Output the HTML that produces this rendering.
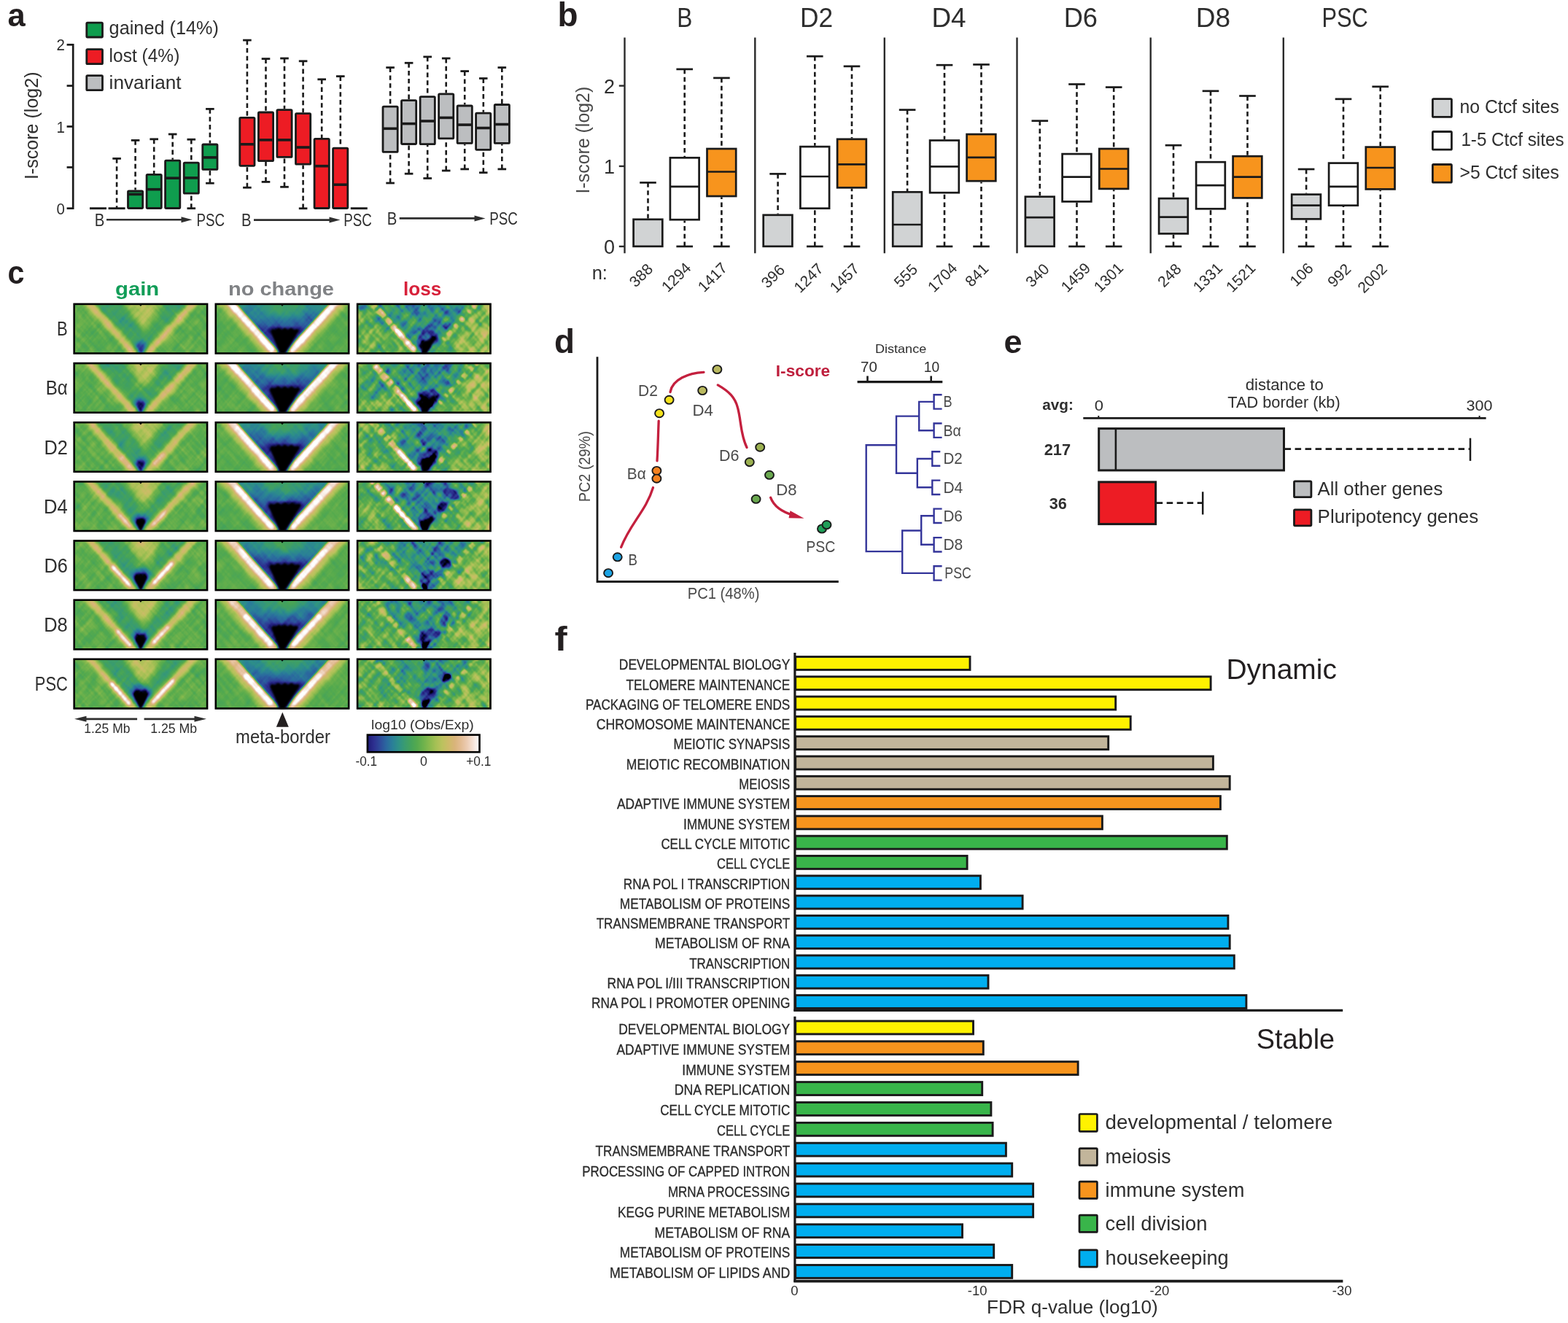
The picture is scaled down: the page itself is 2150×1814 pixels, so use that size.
<!DOCTYPE html>
<html lang="en"><head><meta charset="utf-8"><title>Figure</title>
<style>
html,body{margin:0;padding:0;background:#fff;}
body{width:2150px;height:1814px;overflow:hidden;}
svg{display:block;font-family:"Liberation Sans",sans-serif;}
</style></head><body>
<svg width="2150" height="1814" viewBox="0 0 2150 1814">
<g id="panel-a">
<text x="10.6" y="35.6" font-size="45" font-weight="bold" fill="#231f20" textLength="24.2" lengthAdjust="spacingAndGlyphs">a</text>
<line x1="100.2" y1="60.0" x2="100.2" y2="287.0" stroke="#1a1a1a" stroke-width="2.7"/>
<line x1="91.6" y1="61.3" x2="100.2" y2="61.3" stroke="#1a1a1a" stroke-width="2.7"/>
<line x1="91.6" y1="117.6" x2="100.2" y2="117.6" stroke="#1a1a1a" stroke-width="2.7"/>
<line x1="91.6" y1="173.5" x2="100.2" y2="173.5" stroke="#1a1a1a" stroke-width="2.7"/>
<line x1="91.6" y1="229.4" x2="100.2" y2="229.4" stroke="#1a1a1a" stroke-width="2.7"/>
<line x1="91.6" y1="285.7" x2="100.2" y2="285.7" stroke="#1a1a1a" stroke-width="2.7"/>
<text x="77.4" y="69.4" font-size="22.5" fill="#2e2e2e" textLength="11.4" lengthAdjust="spacingAndGlyphs">2</text>
<text x="77.4" y="181.6" font-size="22.5" fill="#2e2e2e" textLength="11.4" lengthAdjust="spacingAndGlyphs">1</text>
<text x="77.4" y="293.6" font-size="22.5" fill="#2e2e2e" textLength="11.4" lengthAdjust="spacingAndGlyphs">0</text>
<text font-size="25" fill="#2e2e2e" textLength="147.5" lengthAdjust="spacingAndGlyphs" transform="translate(51.6 246.0) rotate(-90)">I-score (log2)</text>
<rect x="118.8" y="31.1" width="21.7" height="19.9" fill="#0f9d4e" stroke="#1a1a1a" stroke-width="2.8" rx="1.2"/>
<text x="149.6" y="47.2" font-size="25.5" fill="#2e2e2e" textLength="150.4" lengthAdjust="spacingAndGlyphs">gained (14%)</text>
<rect x="118.8" y="67.7" width="21.7" height="19.9" fill="#ed1c24" stroke="#1a1a1a" stroke-width="2.8" rx="1.2"/>
<text x="149.6" y="84.8" font-size="25.5" fill="#2e2e2e" textLength="96.7" lengthAdjust="spacingAndGlyphs">lost (4%)</text>
<rect x="118.8" y="103.6" width="21.7" height="20.1" fill="#bcbec0" stroke="#1a1a1a" stroke-width="2.8" rx="1.2"/>
<text x="149.6" y="122.4" font-size="25.5" fill="#2e2e2e" textLength="99.0" lengthAdjust="spacingAndGlyphs">invariant</text>
<line x1="123.0" y1="285.7" x2="146.0" y2="285.7" stroke="#1a1a1a" stroke-width="2.9"/>
<line x1="160.1" y1="217.4" x2="160.1" y2="285.7" stroke="#1a1a1a" stroke-width="2.6" stroke-dasharray="6.4 4.4"/>
<line x1="154.3" y1="217.4" x2="165.9" y2="217.4" stroke="#1a1a1a" stroke-width="2.8"/>
<line x1="148.6" y1="285.7" x2="171.6" y2="285.7" stroke="#1a1a1a" stroke-width="2.9"/>
<line x1="185.6" y1="192.4" x2="185.6" y2="260.6" stroke="#1a1a1a" stroke-width="2.6" stroke-dasharray="6.4 4.4"/>
<line x1="179.8" y1="192.4" x2="191.4" y2="192.4" stroke="#1a1a1a" stroke-width="2.8"/>
<rect x="175.5" y="262.0" width="20.2" height="23.5" fill="#0f9d4e" stroke="#1a1a1a" stroke-width="2.8" rx="1.2"/>
<line x1="175.1" y1="266.4" x2="196.1" y2="266.4" stroke="#1a1a1a" stroke-width="3.6"/>
<line x1="211.2" y1="190.8" x2="211.2" y2="238.0" stroke="#1a1a1a" stroke-width="2.6" stroke-dasharray="6.4 4.4"/>
<line x1="205.4" y1="190.8" x2="217.0" y2="190.8" stroke="#1a1a1a" stroke-width="2.8"/>
<rect x="201.1" y="239.4" width="20.2" height="46.1" fill="#0f9d4e" stroke="#1a1a1a" stroke-width="2.8" rx="1.2"/>
<line x1="200.7" y1="259.7" x2="221.7" y2="259.7" stroke="#1a1a1a" stroke-width="3.6"/>
<line x1="236.7" y1="184.0" x2="236.7" y2="218.8" stroke="#1a1a1a" stroke-width="2.6" stroke-dasharray="6.4 4.4"/>
<line x1="230.9" y1="184.0" x2="242.5" y2="184.0" stroke="#1a1a1a" stroke-width="2.8"/>
<rect x="226.6" y="220.2" width="20.2" height="65.3" fill="#0f9d4e" stroke="#1a1a1a" stroke-width="2.8" rx="1.2"/>
<line x1="226.2" y1="244.2" x2="247.2" y2="244.2" stroke="#1a1a1a" stroke-width="3.6"/>
<line x1="262.3" y1="191.2" x2="262.3" y2="221.7" stroke="#1a1a1a" stroke-width="2.6" stroke-dasharray="6.4 4.4"/>
<line x1="256.5" y1="191.2" x2="268.1" y2="191.2" stroke="#1a1a1a" stroke-width="2.8"/>
<line x1="262.3" y1="285.7" x2="262.3" y2="266.6" stroke="#1a1a1a" stroke-width="2.6" stroke-dasharray="6.4 4.4"/>
<line x1="256.5" y1="285.7" x2="268.1" y2="285.7" stroke="#1a1a1a" stroke-width="2.8"/>
<rect x="252.2" y="223.1" width="20.2" height="42.1" fill="#0f9d4e" stroke="#1a1a1a" stroke-width="2.8" rx="1.2"/>
<line x1="251.8" y1="243.9" x2="272.8" y2="243.9" stroke="#1a1a1a" stroke-width="3.6"/>
<line x1="287.9" y1="149.4" x2="287.9" y2="196.6" stroke="#1a1a1a" stroke-width="2.6" stroke-dasharray="6.4 4.4"/>
<line x1="282.1" y1="149.4" x2="293.7" y2="149.4" stroke="#1a1a1a" stroke-width="2.8"/>
<line x1="287.9" y1="251.2" x2="287.9" y2="233.8" stroke="#1a1a1a" stroke-width="2.6" stroke-dasharray="6.4 4.4"/>
<line x1="282.1" y1="251.2" x2="293.7" y2="251.2" stroke="#1a1a1a" stroke-width="2.8"/>
<rect x="277.8" y="198.0" width="20.2" height="34.4" fill="#0f9d4e" stroke="#1a1a1a" stroke-width="2.8" rx="1.2"/>
<line x1="277.4" y1="215.9" x2="298.4" y2="215.9" stroke="#1a1a1a" stroke-width="3.6"/>
<line x1="338.9" y1="55.1" x2="338.9" y2="160.0" stroke="#1a1a1a" stroke-width="2.6" stroke-dasharray="6.4 4.4"/>
<line x1="333.1" y1="55.1" x2="344.7" y2="55.1" stroke="#1a1a1a" stroke-width="2.8"/>
<line x1="338.9" y1="257.2" x2="338.9" y2="228.7" stroke="#1a1a1a" stroke-width="2.6" stroke-dasharray="6.4 4.4"/>
<line x1="333.1" y1="257.2" x2="344.7" y2="257.2" stroke="#1a1a1a" stroke-width="2.8"/>
<rect x="328.8" y="161.4" width="20.2" height="65.9" fill="#ed1c24" stroke="#1a1a1a" stroke-width="2.8" rx="1.2"/>
<line x1="328.4" y1="197.8" x2="349.4" y2="197.8" stroke="#1a1a1a" stroke-width="3.6"/>
<line x1="364.5" y1="80.6" x2="364.5" y2="152.6" stroke="#1a1a1a" stroke-width="2.6" stroke-dasharray="6.4 4.4"/>
<line x1="358.7" y1="80.6" x2="370.3" y2="80.6" stroke="#1a1a1a" stroke-width="2.8"/>
<line x1="364.5" y1="249.4" x2="364.5" y2="222.0" stroke="#1a1a1a" stroke-width="2.6" stroke-dasharray="6.4 4.4"/>
<line x1="358.7" y1="249.4" x2="370.3" y2="249.4" stroke="#1a1a1a" stroke-width="2.8"/>
<rect x="354.4" y="154.0" width="20.2" height="66.6" fill="#ed1c24" stroke="#1a1a1a" stroke-width="2.8" rx="1.2"/>
<line x1="354.0" y1="191.9" x2="375.0" y2="191.9" stroke="#1a1a1a" stroke-width="3.6"/>
<line x1="390.0" y1="80.0" x2="390.0" y2="149.3" stroke="#1a1a1a" stroke-width="2.6" stroke-dasharray="6.4 4.4"/>
<line x1="384.2" y1="80.0" x2="395.8" y2="80.0" stroke="#1a1a1a" stroke-width="2.8"/>
<line x1="390.0" y1="256.3" x2="390.0" y2="216.8" stroke="#1a1a1a" stroke-width="2.6" stroke-dasharray="6.4 4.4"/>
<line x1="384.2" y1="256.3" x2="395.8" y2="256.3" stroke="#1a1a1a" stroke-width="2.8"/>
<rect x="379.9" y="150.7" width="20.2" height="64.7" fill="#ed1c24" stroke="#1a1a1a" stroke-width="2.8" rx="1.2"/>
<line x1="379.5" y1="191.9" x2="400.5" y2="191.9" stroke="#1a1a1a" stroke-width="3.6"/>
<line x1="415.6" y1="83.8" x2="415.6" y2="154.3" stroke="#1a1a1a" stroke-width="2.6" stroke-dasharray="6.4 4.4"/>
<line x1="409.8" y1="83.8" x2="421.4" y2="83.8" stroke="#1a1a1a" stroke-width="2.8"/>
<line x1="415.6" y1="285.8" x2="415.6" y2="226.6" stroke="#1a1a1a" stroke-width="2.6" stroke-dasharray="6.4 4.4"/>
<line x1="409.8" y1="285.8" x2="421.4" y2="285.8" stroke="#1a1a1a" stroke-width="2.8"/>
<rect x="405.5" y="155.7" width="20.2" height="69.5" fill="#ed1c24" stroke="#1a1a1a" stroke-width="2.8" rx="1.2"/>
<line x1="405.1" y1="202.0" x2="426.1" y2="202.0" stroke="#1a1a1a" stroke-width="3.6"/>
<line x1="441.2" y1="108.8" x2="441.2" y2="189.0" stroke="#1a1a1a" stroke-width="2.6" stroke-dasharray="6.4 4.4"/>
<line x1="435.4" y1="108.8" x2="447.0" y2="108.8" stroke="#1a1a1a" stroke-width="2.8"/>
<rect x="431.1" y="190.4" width="20.2" height="95.1" fill="#ed1c24" stroke="#1a1a1a" stroke-width="2.8" rx="1.2"/>
<line x1="430.7" y1="227.7" x2="451.7" y2="227.7" stroke="#1a1a1a" stroke-width="3.6"/>
<line x1="466.8" y1="104.6" x2="466.8" y2="201.7" stroke="#1a1a1a" stroke-width="2.6" stroke-dasharray="6.4 4.4"/>
<line x1="460.9" y1="104.6" x2="472.6" y2="104.6" stroke="#1a1a1a" stroke-width="2.8"/>
<rect x="456.6" y="203.1" width="20.2" height="82.4" fill="#ed1c24" stroke="#1a1a1a" stroke-width="2.8" rx="1.2"/>
<line x1="456.2" y1="253.2" x2="477.2" y2="253.2" stroke="#1a1a1a" stroke-width="3.6"/>
<line x1="480.8" y1="285.7" x2="503.8" y2="285.7" stroke="#1a1a1a" stroke-width="2.9"/>
<line x1="535.1" y1="92.6" x2="535.1" y2="144.8" stroke="#1a1a1a" stroke-width="2.6" stroke-dasharray="6.4 4.4"/>
<line x1="529.3" y1="92.6" x2="540.9" y2="92.6" stroke="#1a1a1a" stroke-width="2.8"/>
<line x1="535.1" y1="251.0" x2="535.1" y2="209.8" stroke="#1a1a1a" stroke-width="2.6" stroke-dasharray="6.4 4.4"/>
<line x1="529.3" y1="251.0" x2="540.9" y2="251.0" stroke="#1a1a1a" stroke-width="2.8"/>
<rect x="525.0" y="146.2" width="20.2" height="62.2" fill="#bcbec0" stroke="#1a1a1a" stroke-width="2.8" rx="1.2"/>
<line x1="524.6" y1="176.3" x2="545.6" y2="176.3" stroke="#1a1a1a" stroke-width="3.6"/>
<line x1="560.6" y1="86.3" x2="560.6" y2="136.2" stroke="#1a1a1a" stroke-width="2.6" stroke-dasharray="6.4 4.4"/>
<line x1="554.8" y1="86.3" x2="566.4" y2="86.3" stroke="#1a1a1a" stroke-width="2.8"/>
<line x1="560.6" y1="238.2" x2="560.6" y2="198.9" stroke="#1a1a1a" stroke-width="2.6" stroke-dasharray="6.4 4.4"/>
<line x1="554.8" y1="238.2" x2="566.4" y2="238.2" stroke="#1a1a1a" stroke-width="2.8"/>
<rect x="550.5" y="137.6" width="20.2" height="59.9" fill="#bcbec0" stroke="#1a1a1a" stroke-width="2.8" rx="1.2"/>
<line x1="550.1" y1="169.6" x2="571.1" y2="169.6" stroke="#1a1a1a" stroke-width="3.6"/>
<line x1="586.2" y1="77.9" x2="586.2" y2="131.2" stroke="#1a1a1a" stroke-width="2.6" stroke-dasharray="6.4 4.4"/>
<line x1="580.4" y1="77.9" x2="592.0" y2="77.9" stroke="#1a1a1a" stroke-width="2.8"/>
<line x1="586.2" y1="244.5" x2="586.2" y2="199.1" stroke="#1a1a1a" stroke-width="2.6" stroke-dasharray="6.4 4.4"/>
<line x1="580.4" y1="244.5" x2="592.0" y2="244.5" stroke="#1a1a1a" stroke-width="2.8"/>
<rect x="576.1" y="132.6" width="20.2" height="65.1" fill="#bcbec0" stroke="#1a1a1a" stroke-width="2.8" rx="1.2"/>
<line x1="575.7" y1="166.0" x2="596.7" y2="166.0" stroke="#1a1a1a" stroke-width="3.6"/>
<line x1="611.7" y1="80.0" x2="611.7" y2="127.4" stroke="#1a1a1a" stroke-width="2.6" stroke-dasharray="6.4 4.4"/>
<line x1="605.9" y1="80.0" x2="617.5" y2="80.0" stroke="#1a1a1a" stroke-width="2.8"/>
<line x1="611.7" y1="234.0" x2="611.7" y2="191.3" stroke="#1a1a1a" stroke-width="2.6" stroke-dasharray="6.4 4.4"/>
<line x1="605.9" y1="234.0" x2="617.5" y2="234.0" stroke="#1a1a1a" stroke-width="2.8"/>
<rect x="601.6" y="128.8" width="20.2" height="61.1" fill="#bcbec0" stroke="#1a1a1a" stroke-width="2.8" rx="1.2"/>
<line x1="601.2" y1="161.4" x2="622.2" y2="161.4" stroke="#1a1a1a" stroke-width="3.6"/>
<line x1="637.2" y1="97.6" x2="637.2" y2="143.6" stroke="#1a1a1a" stroke-width="2.6" stroke-dasharray="6.4 4.4"/>
<line x1="631.4" y1="97.6" x2="643.0" y2="97.6" stroke="#1a1a1a" stroke-width="2.8"/>
<line x1="637.2" y1="231.9" x2="637.2" y2="197.8" stroke="#1a1a1a" stroke-width="2.6" stroke-dasharray="6.4 4.4"/>
<line x1="631.4" y1="231.9" x2="643.0" y2="231.9" stroke="#1a1a1a" stroke-width="2.8"/>
<rect x="627.1" y="145.0" width="20.2" height="51.4" fill="#bcbec0" stroke="#1a1a1a" stroke-width="2.8" rx="1.2"/>
<line x1="626.7" y1="171.1" x2="647.7" y2="171.1" stroke="#1a1a1a" stroke-width="3.6"/>
<line x1="662.8" y1="107.5" x2="662.8" y2="153.7" stroke="#1a1a1a" stroke-width="2.6" stroke-dasharray="6.4 4.4"/>
<line x1="657.0" y1="107.5" x2="668.5" y2="107.5" stroke="#1a1a1a" stroke-width="2.8"/>
<line x1="662.8" y1="236.7" x2="662.8" y2="206.7" stroke="#1a1a1a" stroke-width="2.6" stroke-dasharray="6.4 4.4"/>
<line x1="657.0" y1="236.7" x2="668.5" y2="236.7" stroke="#1a1a1a" stroke-width="2.8"/>
<rect x="652.6" y="155.1" width="20.2" height="50.2" fill="#bcbec0" stroke="#1a1a1a" stroke-width="2.8" rx="1.2"/>
<line x1="652.2" y1="175.5" x2="673.2" y2="175.5" stroke="#1a1a1a" stroke-width="3.6"/>
<line x1="688.3" y1="92.6" x2="688.3" y2="142.1" stroke="#1a1a1a" stroke-width="2.6" stroke-dasharray="6.4 4.4"/>
<line x1="682.5" y1="92.6" x2="694.1" y2="92.6" stroke="#1a1a1a" stroke-width="2.8"/>
<line x1="688.3" y1="231.9" x2="688.3" y2="197.8" stroke="#1a1a1a" stroke-width="2.6" stroke-dasharray="6.4 4.4"/>
<line x1="682.5" y1="231.9" x2="694.1" y2="231.9" stroke="#1a1a1a" stroke-width="2.8"/>
<rect x="678.2" y="143.5" width="20.2" height="52.9" fill="#bcbec0" stroke="#1a1a1a" stroke-width="2.8" rx="1.2"/>
<line x1="677.8" y1="170.5" x2="698.8" y2="170.5" stroke="#1a1a1a" stroke-width="3.6"/>
<text x="129.7" y="309.6" font-size="24.5" fill="#2e2e2e" textLength="13.6" lengthAdjust="spacingAndGlyphs">B</text>
<line x1="146.0" y1="301.3" x2="251.5" y2="301.3" stroke="#2e2e2e" stroke-width="2.6"/>
<path d="M263.5 301.3 L248.5 297.3 L248.5 305.3 Z" fill="#2e2e2e"/>
<text x="269.5" y="309.6" font-size="24.5" fill="#2e2e2e" textLength="38.6" lengthAdjust="spacingAndGlyphs">PSC</text>
<text x="330.9" y="310.0" font-size="24.5" fill="#2e2e2e" textLength="13.6" lengthAdjust="spacingAndGlyphs">B</text>
<line x1="348.0" y1="301.6" x2="454.5" y2="301.6" stroke="#2e2e2e" stroke-width="2.6"/>
<path d="M466.5 301.6 L451.5 297.6 L451.5 305.6 Z" fill="#2e2e2e"/>
<text x="471.3" y="310.0" font-size="24.5" fill="#2e2e2e" textLength="38.6" lengthAdjust="spacingAndGlyphs">PSC</text>
<text x="530.8" y="308.0" font-size="24.5" fill="#2e2e2e" textLength="13.6" lengthAdjust="spacingAndGlyphs">B</text>
<line x1="547.7" y1="299.4" x2="653.5" y2="299.4" stroke="#2e2e2e" stroke-width="2.6"/>
<path d="M665.5 299.4 L650.5 295.4 L650.5 303.4 Z" fill="#2e2e2e"/>
<text x="671.2" y="308.0" font-size="24.5" fill="#2e2e2e" textLength="38.6" lengthAdjust="spacingAndGlyphs">PSC</text>
</g>
<g id="panel-b">
<text x="764.6" y="35.9" font-size="46" font-weight="bold" fill="#231f20" textLength="28.0" lengthAdjust="spacingAndGlyphs">b</text>
<text x="928.3" y="37.2" font-size="36.5" fill="#2e2e2e" textLength="21.1" lengthAdjust="spacingAndGlyphs">B</text>
<text x="1097.0" y="37.2" font-size="36.5" fill="#2e2e2e" textLength="45.1" lengthAdjust="spacingAndGlyphs">D2</text>
<text x="1277.4" y="37.2" font-size="36.5" fill="#2e2e2e" textLength="47.2" lengthAdjust="spacingAndGlyphs">D4</text>
<text x="1458.7" y="37.2" font-size="36.5" fill="#2e2e2e" textLength="46.3" lengthAdjust="spacingAndGlyphs">D6</text>
<text x="1639.7" y="37.2" font-size="36.5" fill="#2e2e2e" textLength="47.3" lengthAdjust="spacingAndGlyphs">D8</text>
<text x="1812.4" y="37.2" font-size="36.5" fill="#2e2e2e" textLength="63.3" lengthAdjust="spacingAndGlyphs">PSC</text>
<line x1="856.5" y1="51.4" x2="856.5" y2="347.2" stroke="#2a2a2a" stroke-width="2.4"/>
<line x1="1035.3" y1="51.4" x2="1035.3" y2="347.2" stroke="#2a2a2a" stroke-width="2.4"/>
<line x1="1212.8" y1="51.4" x2="1212.8" y2="347.2" stroke="#2a2a2a" stroke-width="2.4"/>
<line x1="1394.5" y1="51.4" x2="1394.5" y2="347.2" stroke="#2a2a2a" stroke-width="2.4"/>
<line x1="1577.7" y1="51.4" x2="1577.7" y2="347.2" stroke="#2a2a2a" stroke-width="2.4"/>
<line x1="1759.8" y1="51.4" x2="1759.8" y2="347.2" stroke="#2a2a2a" stroke-width="2.4"/>
<line x1="848.8" y1="117.6" x2="856.5" y2="117.6" stroke="#2a2a2a" stroke-width="2.4"/>
<line x1="848.8" y1="227.9" x2="856.5" y2="227.9" stroke="#2a2a2a" stroke-width="2.4"/>
<line x1="848.8" y1="337.9" x2="856.5" y2="337.9" stroke="#2a2a2a" stroke-width="2.4"/>
<text x="843.0" y="127.6" font-size="27" text-anchor="end" fill="#2e2e2e">2</text>
<text x="843.0" y="237.9" font-size="27" text-anchor="end" fill="#2e2e2e">1</text>
<text x="843.0" y="348.0" font-size="27" text-anchor="end" fill="#2e2e2e">0</text>
<text font-size="25" fill="#4a4a4a" textLength="146.6" lengthAdjust="spacingAndGlyphs" transform="translate(807.8 265.4) rotate(-90)">I-score (log2)</text>
<text x="811.7" y="382.8" font-size="25.5" fill="#2e2e2e">n:</text>
<line x1="888.5" y1="250.4" x2="888.5" y2="299.4" stroke="#1a1a1a" stroke-width="2.6" stroke-dasharray="6.4 4.4"/>
<line x1="877.2" y1="250.4" x2="899.8" y2="250.4" stroke="#1a1a1a" stroke-width="2.7"/>
<rect x="868.6" y="300.8" width="39.7" height="37.0" fill="#d1d3d4" stroke="#1a1a1a" stroke-width="2.7"/>
<text font-size="21" text-anchor="middle" fill="#2e2e2e" transform="translate(884.0 382.7) rotate(-45)">388</text>
<line x1="938.7" y1="94.9" x2="938.7" y2="215.0" stroke="#1a1a1a" stroke-width="2.6" stroke-dasharray="6.4 4.4"/>
<line x1="927.4" y1="94.9" x2="950.0" y2="94.9" stroke="#1a1a1a" stroke-width="2.7"/>
<line x1="938.7" y1="337.9" x2="938.7" y2="302.6" stroke="#1a1a1a" stroke-width="2.6" stroke-dasharray="6.4 4.4"/>
<line x1="927.4" y1="337.9" x2="950.0" y2="337.9" stroke="#1a1a1a" stroke-width="2.7"/>
<rect x="918.9" y="216.3" width="39.7" height="84.9" fill="#ffffff" stroke="#1a1a1a" stroke-width="2.7"/>
<line x1="918.5" y1="255.9" x2="958.9" y2="255.9" stroke="#1a1a1a" stroke-width="2.7"/>
<text font-size="21" text-anchor="middle" fill="#2e2e2e" transform="translate(932.2 385.2) rotate(-45)">1294</text>
<line x1="989.4" y1="106.9" x2="989.4" y2="202.6" stroke="#1a1a1a" stroke-width="2.6" stroke-dasharray="6.4 4.4"/>
<line x1="978.1" y1="106.9" x2="1000.7" y2="106.9" stroke="#1a1a1a" stroke-width="2.7"/>
<line x1="989.4" y1="337.9" x2="989.4" y2="270.3" stroke="#1a1a1a" stroke-width="2.6" stroke-dasharray="6.4 4.4"/>
<line x1="978.1" y1="337.9" x2="1000.7" y2="337.9" stroke="#1a1a1a" stroke-width="2.7"/>
<rect x="969.5" y="204.0" width="39.7" height="65.0" fill="#f7941d" stroke="#1a1a1a" stroke-width="2.7"/>
<line x1="969.2" y1="235.5" x2="1009.6" y2="235.5" stroke="#1a1a1a" stroke-width="2.7"/>
<text font-size="21" text-anchor="middle" fill="#2e2e2e" transform="translate(982.0 385.3) rotate(-45)">1417</text>
<line x1="1066.6" y1="238.4" x2="1066.6" y2="293.4" stroke="#1a1a1a" stroke-width="2.6" stroke-dasharray="6.4 4.4"/>
<line x1="1055.3" y1="238.4" x2="1077.9" y2="238.4" stroke="#1a1a1a" stroke-width="2.7"/>
<rect x="1046.7" y="294.8" width="39.7" height="43.0" fill="#d1d3d4" stroke="#1a1a1a" stroke-width="2.7"/>
<text font-size="21" text-anchor="middle" fill="#2e2e2e" transform="translate(1065.0 383.9) rotate(-45)">396</text>
<line x1="1117.3" y1="77.2" x2="1117.3" y2="199.7" stroke="#1a1a1a" stroke-width="2.6" stroke-dasharray="6.4 4.4"/>
<line x1="1106.0" y1="77.2" x2="1128.6" y2="77.2" stroke="#1a1a1a" stroke-width="2.7"/>
<line x1="1117.3" y1="337.9" x2="1117.3" y2="287.0" stroke="#1a1a1a" stroke-width="2.6" stroke-dasharray="6.4 4.4"/>
<line x1="1106.0" y1="337.9" x2="1128.6" y2="337.9" stroke="#1a1a1a" stroke-width="2.7"/>
<rect x="1097.4" y="201.1" width="39.7" height="84.6" fill="#ffffff" stroke="#1a1a1a" stroke-width="2.7"/>
<line x1="1097.1" y1="242.0" x2="1137.5" y2="242.0" stroke="#1a1a1a" stroke-width="2.7"/>
<text font-size="21" text-anchor="middle" fill="#2e2e2e" transform="translate(1113.8 386.3) rotate(-45)">1247</text>
<line x1="1168.0" y1="90.9" x2="1168.0" y2="189.4" stroke="#1a1a1a" stroke-width="2.6" stroke-dasharray="6.4 4.4"/>
<line x1="1156.7" y1="90.9" x2="1179.3" y2="90.9" stroke="#1a1a1a" stroke-width="2.7"/>
<line x1="1168.0" y1="337.9" x2="1168.0" y2="258.6" stroke="#1a1a1a" stroke-width="2.6" stroke-dasharray="6.4 4.4"/>
<line x1="1156.7" y1="337.9" x2="1179.3" y2="337.9" stroke="#1a1a1a" stroke-width="2.7"/>
<rect x="1148.1" y="190.8" width="39.7" height="66.5" fill="#f7941d" stroke="#1a1a1a" stroke-width="2.7"/>
<line x1="1147.8" y1="225.3" x2="1188.2" y2="225.3" stroke="#1a1a1a" stroke-width="2.7"/>
<text font-size="21" text-anchor="middle" fill="#2e2e2e" transform="translate(1163.0 386.3) rotate(-45)">1457</text>
<line x1="1244.1" y1="150.6" x2="1244.1" y2="261.9" stroke="#1a1a1a" stroke-width="2.6" stroke-dasharray="6.4 4.4"/>
<line x1="1232.8" y1="150.6" x2="1255.4" y2="150.6" stroke="#1a1a1a" stroke-width="2.7"/>
<rect x="1224.2" y="263.3" width="39.7" height="74.5" fill="#d1d3d4" stroke="#1a1a1a" stroke-width="2.7"/>
<line x1="1223.9" y1="308.0" x2="1264.3" y2="308.0" stroke="#1a1a1a" stroke-width="2.7"/>
<text font-size="21" text-anchor="middle" fill="#2e2e2e" transform="translate(1247.0 383.1) rotate(-45)">555</text>
<line x1="1295.0" y1="89.2" x2="1295.0" y2="191.1" stroke="#1a1a1a" stroke-width="2.6" stroke-dasharray="6.4 4.4"/>
<line x1="1283.7" y1="89.2" x2="1306.3" y2="89.2" stroke="#1a1a1a" stroke-width="2.7"/>
<line x1="1295.0" y1="337.9" x2="1295.0" y2="265.5" stroke="#1a1a1a" stroke-width="2.6" stroke-dasharray="6.4 4.4"/>
<line x1="1283.7" y1="337.9" x2="1306.3" y2="337.9" stroke="#1a1a1a" stroke-width="2.7"/>
<rect x="1275.1" y="192.5" width="39.7" height="71.7" fill="#ffffff" stroke="#1a1a1a" stroke-width="2.7"/>
<line x1="1274.8" y1="228.4" x2="1315.2" y2="228.4" stroke="#1a1a1a" stroke-width="2.7"/>
<text font-size="21" text-anchor="middle" fill="#2e2e2e" transform="translate(1297.2 385.5) rotate(-45)">1704</text>
<line x1="1345.5" y1="88.5" x2="1345.5" y2="182.7" stroke="#1a1a1a" stroke-width="2.6" stroke-dasharray="6.4 4.4"/>
<line x1="1334.2" y1="88.5" x2="1356.8" y2="88.5" stroke="#1a1a1a" stroke-width="2.7"/>
<line x1="1345.5" y1="337.9" x2="1345.5" y2="249.5" stroke="#1a1a1a" stroke-width="2.6" stroke-dasharray="6.4 4.4"/>
<line x1="1334.2" y1="337.9" x2="1356.8" y2="337.9" stroke="#1a1a1a" stroke-width="2.7"/>
<rect x="1325.6" y="184.1" width="39.7" height="64.1" fill="#f7941d" stroke="#1a1a1a" stroke-width="2.7"/>
<line x1="1325.3" y1="215.9" x2="1365.7" y2="215.9" stroke="#1a1a1a" stroke-width="2.7"/>
<text font-size="21" text-anchor="middle" fill="#2e2e2e" transform="translate(1344.3 382.1) rotate(-45)">841</text>
<line x1="1425.8" y1="165.7" x2="1425.8" y2="268.3" stroke="#1a1a1a" stroke-width="2.6" stroke-dasharray="6.4 4.4"/>
<line x1="1414.5" y1="165.7" x2="1437.1" y2="165.7" stroke="#1a1a1a" stroke-width="2.7"/>
<rect x="1405.9" y="269.7" width="39.7" height="68.1" fill="#d1d3d4" stroke="#1a1a1a" stroke-width="2.7"/>
<line x1="1405.6" y1="298.2" x2="1446.0" y2="298.2" stroke="#1a1a1a" stroke-width="2.7"/>
<text font-size="21" text-anchor="middle" fill="#2e2e2e" transform="translate(1427.5 382.6) rotate(-45)">340</text>
<line x1="1476.5" y1="115.5" x2="1476.5" y2="209.7" stroke="#1a1a1a" stroke-width="2.6" stroke-dasharray="6.4 4.4"/>
<line x1="1465.2" y1="115.5" x2="1487.8" y2="115.5" stroke="#1a1a1a" stroke-width="2.7"/>
<line x1="1476.5" y1="337.9" x2="1476.5" y2="277.7" stroke="#1a1a1a" stroke-width="2.6" stroke-dasharray="6.4 4.4"/>
<line x1="1465.2" y1="337.9" x2="1487.8" y2="337.9" stroke="#1a1a1a" stroke-width="2.7"/>
<rect x="1456.6" y="211.1" width="39.7" height="65.3" fill="#ffffff" stroke="#1a1a1a" stroke-width="2.7"/>
<line x1="1456.3" y1="242.7" x2="1496.7" y2="242.7" stroke="#1a1a1a" stroke-width="2.7"/>
<text font-size="21" text-anchor="middle" fill="#2e2e2e" transform="translate(1479.9 385.5) rotate(-45)">1459</text>
<line x1="1527.2" y1="119.6" x2="1527.2" y2="202.6" stroke="#1a1a1a" stroke-width="2.6" stroke-dasharray="6.4 4.4"/>
<line x1="1515.9" y1="119.6" x2="1538.5" y2="119.6" stroke="#1a1a1a" stroke-width="2.7"/>
<line x1="1527.2" y1="337.9" x2="1527.2" y2="260.2" stroke="#1a1a1a" stroke-width="2.6" stroke-dasharray="6.4 4.4"/>
<line x1="1515.9" y1="337.9" x2="1538.5" y2="337.9" stroke="#1a1a1a" stroke-width="2.7"/>
<rect x="1507.3" y="204.0" width="39.7" height="54.9" fill="#f7941d" stroke="#1a1a1a" stroke-width="2.7"/>
<line x1="1507.0" y1="231.5" x2="1547.4" y2="231.5" stroke="#1a1a1a" stroke-width="2.7"/>
<text font-size="21" text-anchor="middle" fill="#2e2e2e" transform="translate(1524.9 385.5) rotate(-45)">1301</text>
<line x1="1609.0" y1="199.2" x2="1609.0" y2="270.7" stroke="#1a1a1a" stroke-width="2.6" stroke-dasharray="6.4 4.4"/>
<line x1="1597.7" y1="199.2" x2="1620.3" y2="199.2" stroke="#1a1a1a" stroke-width="2.7"/>
<line x1="1609.0" y1="337.9" x2="1609.0" y2="321.7" stroke="#1a1a1a" stroke-width="2.6" stroke-dasharray="6.4 4.4"/>
<line x1="1597.7" y1="337.9" x2="1620.3" y2="337.9" stroke="#1a1a1a" stroke-width="2.7"/>
<rect x="1589.1" y="272.1" width="39.7" height="48.3" fill="#d1d3d4" stroke="#1a1a1a" stroke-width="2.7"/>
<line x1="1588.8" y1="297.7" x2="1629.2" y2="297.7" stroke="#1a1a1a" stroke-width="2.7"/>
<text font-size="21" text-anchor="middle" fill="#2e2e2e" transform="translate(1608.5 382.6) rotate(-45)">248</text>
<line x1="1660.0" y1="124.8" x2="1660.0" y2="220.8" stroke="#1a1a1a" stroke-width="2.6" stroke-dasharray="6.4 4.4"/>
<line x1="1648.7" y1="124.8" x2="1671.3" y2="124.8" stroke="#1a1a1a" stroke-width="2.7"/>
<line x1="1660.0" y1="337.9" x2="1660.0" y2="287.6" stroke="#1a1a1a" stroke-width="2.6" stroke-dasharray="6.4 4.4"/>
<line x1="1648.7" y1="337.9" x2="1671.3" y2="337.9" stroke="#1a1a1a" stroke-width="2.7"/>
<rect x="1640.1" y="222.2" width="39.7" height="64.1" fill="#ffffff" stroke="#1a1a1a" stroke-width="2.7"/>
<line x1="1639.8" y1="254.2" x2="1680.2" y2="254.2" stroke="#1a1a1a" stroke-width="2.7"/>
<text font-size="21" text-anchor="middle" fill="#2e2e2e" transform="translate(1661.1 385.5) rotate(-45)">1331</text>
<line x1="1710.5" y1="131.5" x2="1710.5" y2="212.8" stroke="#1a1a1a" stroke-width="2.6" stroke-dasharray="6.4 4.4"/>
<line x1="1699.2" y1="131.5" x2="1721.8" y2="131.5" stroke="#1a1a1a" stroke-width="2.7"/>
<line x1="1710.5" y1="337.9" x2="1710.5" y2="272.7" stroke="#1a1a1a" stroke-width="2.6" stroke-dasharray="6.4 4.4"/>
<line x1="1699.2" y1="337.9" x2="1721.8" y2="337.9" stroke="#1a1a1a" stroke-width="2.7"/>
<rect x="1690.6" y="214.2" width="39.7" height="57.2" fill="#f7941d" stroke="#1a1a1a" stroke-width="2.7"/>
<line x1="1690.3" y1="242.7" x2="1730.7" y2="242.7" stroke="#1a1a1a" stroke-width="2.7"/>
<text font-size="21" text-anchor="middle" fill="#2e2e2e" transform="translate(1706.2 385.5) rotate(-45)">1521</text>
<line x1="1791.1" y1="232.0" x2="1791.1" y2="265.2" stroke="#1a1a1a" stroke-width="2.6" stroke-dasharray="6.4 4.4"/>
<line x1="1779.8" y1="232.0" x2="1802.4" y2="232.0" stroke="#1a1a1a" stroke-width="2.7"/>
<line x1="1791.1" y1="337.9" x2="1791.1" y2="301.6" stroke="#1a1a1a" stroke-width="2.6" stroke-dasharray="6.4 4.4"/>
<line x1="1779.8" y1="337.9" x2="1802.4" y2="337.9" stroke="#1a1a1a" stroke-width="2.7"/>
<rect x="1771.2" y="266.6" width="39.7" height="33.7" fill="#d1d3d4" stroke="#1a1a1a" stroke-width="2.7"/>
<line x1="1770.9" y1="281.7" x2="1811.3" y2="281.7" stroke="#1a1a1a" stroke-width="2.7"/>
<text font-size="21" text-anchor="middle" fill="#2e2e2e" transform="translate(1789.7 381.6) rotate(-45)">106</text>
<line x1="1842.0" y1="135.8" x2="1842.0" y2="222.2" stroke="#1a1a1a" stroke-width="2.6" stroke-dasharray="6.4 4.4"/>
<line x1="1830.7" y1="135.8" x2="1853.3" y2="135.8" stroke="#1a1a1a" stroke-width="2.7"/>
<line x1="1842.0" y1="337.9" x2="1842.0" y2="283.0" stroke="#1a1a1a" stroke-width="2.6" stroke-dasharray="6.4 4.4"/>
<line x1="1830.7" y1="337.9" x2="1853.3" y2="337.9" stroke="#1a1a1a" stroke-width="2.7"/>
<rect x="1822.1" y="223.6" width="39.7" height="58.1" fill="#ffffff" stroke="#1a1a1a" stroke-width="2.7"/>
<line x1="1821.8" y1="255.9" x2="1862.2" y2="255.9" stroke="#1a1a1a" stroke-width="2.7"/>
<text font-size="21" text-anchor="middle" fill="#2e2e2e" transform="translate(1841.3 382.6) rotate(-45)">992</text>
<line x1="1892.7" y1="118.8" x2="1892.7" y2="200.2" stroke="#1a1a1a" stroke-width="2.6" stroke-dasharray="6.4 4.4"/>
<line x1="1881.4" y1="118.8" x2="1904.0" y2="118.8" stroke="#1a1a1a" stroke-width="2.7"/>
<line x1="1892.7" y1="337.9" x2="1892.7" y2="260.7" stroke="#1a1a1a" stroke-width="2.6" stroke-dasharray="6.4 4.4"/>
<line x1="1881.4" y1="337.9" x2="1904.0" y2="337.9" stroke="#1a1a1a" stroke-width="2.7"/>
<rect x="1872.8" y="201.6" width="39.7" height="57.8" fill="#f7941d" stroke="#1a1a1a" stroke-width="2.7"/>
<line x1="1872.5" y1="230.0" x2="1912.9" y2="230.0" stroke="#1a1a1a" stroke-width="2.7"/>
<text font-size="21" text-anchor="middle" fill="#2e2e2e" transform="translate(1886.8 386.5) rotate(-45)">2002</text>
<rect x="1964.4" y="135.6" width="26.0" height="24.8" fill="#d1d3d4" stroke="#1a1a1a" stroke-width="2.8" rx="1.2"/>
<text x="2001.5" y="155.4" font-size="25.5" fill="#2e2e2e" textLength="136.3" lengthAdjust="spacingAndGlyphs">no Ctcf sites</text>
<rect x="1964.4" y="180.5" width="26.0" height="24.6" fill="#ffffff" stroke="#1a1a1a" stroke-width="2.8" rx="1.2"/>
<text x="2003.4" y="200.4" font-size="25.5" fill="#2e2e2e" textLength="141.1" lengthAdjust="spacingAndGlyphs">1-5 Ctcf sites</text>
<rect x="1964.4" y="225.5" width="26.0" height="24.6" fill="#f7941d" stroke="#1a1a1a" stroke-width="2.8" rx="1.2"/>
<text x="2001.5" y="245.3" font-size="25.5" fill="#2e2e2e" textLength="136.3" lengthAdjust="spacingAndGlyphs">&gt;5 Ctcf sites</text>
</g>
<g id="panel-c">
<text x="10.4" y="388.6" font-size="44" font-weight="bold" fill="#231f20" textLength="23.0" lengthAdjust="spacingAndGlyphs">c</text>
<text x="158.0" y="405.2" font-size="26.5" font-weight="bold" fill="#129d58" textLength="60.3" lengthAdjust="spacingAndGlyphs">gain</text>
<text x="313.0" y="405.2" font-size="26.5" font-weight="bold" fill="#808285" textLength="145.0" lengthAdjust="spacingAndGlyphs">no change</text>
<text x="553.0" y="405.2" font-size="26.5" font-weight="bold" fill="#d7213a" textLength="52.3" lengthAdjust="spacingAndGlyphs">loss</text>
<defs>
<clipPath id="hclip"><rect x="0.5" y="0.5" width="184.0" height="69.2"/></clipPath>
<filter id="soft6" x="-50%" y="-50%" width="200%" height="200%"><feGaussianBlur stdDeviation="6"/></filter>
<filter id="soft2" x="-50%" y="-50%" width="200%" height="200%"><feGaussianBlur stdDeviation="1.8"/></filter>
<filter id="soft3" x="-50%" y="-50%" width="200%" height="200%"><feGaussianBlur stdDeviation="3"/></filter>
<filter id="soft1" x="-50%" y="-50%" width="200%" height="200%"><feGaussianBlur stdDeviation="0.8"/></filter>
<linearGradient id="ncg" gradientUnits="userSpaceOnUse" x1="0" y1="0" x2="0" y2="70.2"><stop offset="0" stop-color="#595959"/><stop offset="0.22" stop-color="#4c4c4c"/><stop offset="0.40" stop-color="#3d3d3d"/><stop offset="0.52" stop-color="#2b2b2b"/></linearGradient>
<filter id="hg0" filterUnits="userSpaceOnUse" x="-150" y="-150" width="300" height="300" color-interpolation-filters="sRGB"><feGaussianBlur in="SourceGraphic" stdDeviation="1.3" result="b"/><feTurbulence type="fractalNoise" baseFrequency="0.022 0.22" numOctaves="2" seed="3" result="t1"/><feColorMatrix in="t1" type="matrix" values="0.12 0 0 0 0 0.12 0 0 0 0 0.12 0 0 0 0 0 0 0 0 1" result="g1"/><feTurbulence type="fractalNoise" baseFrequency="0.22 0.022" numOctaves="2" seed="43" result="t2"/><feColorMatrix in="t2" type="matrix" values="0.12 0 0 0 0 0.12 0 0 0 0 0.12 0 0 0 0 0 0 0 0 1" result="g2"/><feTurbulence type="fractalNoise" baseFrequency="0.07" numOctaves="2" seed="83" result="t3"/><feColorMatrix in="t3" type="matrix" values="0.14 0 0 0 0 0.14 0 0 0 0 0.14 0 0 0 0 0 0 0 0 1" result="g3"/><feComposite in="g1" in2="g2" operator="arithmetic" k1="0" k2="1" k3="1" k4="0" result="s12"/><feComposite in="s12" in2="g3" operator="arithmetic" k1="0" k2="1" k3="1" k4="0" result="s"/><feComposite in="b" in2="s" operator="arithmetic" k1="0" k2="1" k3="1" k4="-0.190" result="v"/><feComponentTransfer in="v"><feFuncR type="table" tableValues="0.000 0.039 0.118 0.176 0.180 0.169 0.165 0.180 0.227 0.271 0.333 0.431 0.541 0.647 0.737 0.804 0.851 0.890 0.925 0.961 1.000"/><feFuncG type="table" tableValues="0.000 0.039 0.110 0.184 0.290 0.404 0.498 0.569 0.612 0.639 0.667 0.698 0.729 0.753 0.761 0.733 0.706 0.737 0.800 0.890 1.000"/><feFuncB type="table" tableValues="0.000 0.290 0.471 0.561 0.604 0.624 0.596 0.529 0.439 0.353 0.306 0.298 0.306 0.333 0.369 0.408 0.478 0.576 0.702 0.847 1.000"/></feComponentTransfer></filter>
<filter id="hn0" filterUnits="userSpaceOnUse" x="-150" y="-150" width="300" height="300" color-interpolation-filters="sRGB"><feGaussianBlur in="SourceGraphic" stdDeviation="1.2" result="b"/><feTurbulence type="fractalNoise" baseFrequency="0.022 0.22" numOctaves="2" seed="13" result="t1"/><feColorMatrix in="t1" type="matrix" values="0.09 0 0 0 0 0.09 0 0 0 0 0.09 0 0 0 0 0 0 0 0 1" result="g1"/><feTurbulence type="fractalNoise" baseFrequency="0.22 0.022" numOctaves="2" seed="53" result="t2"/><feColorMatrix in="t2" type="matrix" values="0.09 0 0 0 0 0.09 0 0 0 0 0.09 0 0 0 0 0 0 0 0 1" result="g2"/><feTurbulence type="fractalNoise" baseFrequency="0.07" numOctaves="2" seed="93" result="t3"/><feColorMatrix in="t3" type="matrix" values="0.1 0 0 0 0 0.1 0 0 0 0 0.1 0 0 0 0 0 0 0 0 1" result="g3"/><feComposite in="g1" in2="g2" operator="arithmetic" k1="0" k2="1" k3="1" k4="0" result="s12"/><feComposite in="s12" in2="g3" operator="arithmetic" k1="0" k2="1" k3="1" k4="0" result="s"/><feComposite in="b" in2="s" operator="arithmetic" k1="0" k2="1" k3="1" k4="-0.140" result="v"/><feComponentTransfer in="v"><feFuncR type="table" tableValues="0.000 0.039 0.118 0.176 0.180 0.169 0.165 0.180 0.227 0.271 0.333 0.431 0.541 0.647 0.737 0.804 0.851 0.890 0.925 0.961 1.000"/><feFuncG type="table" tableValues="0.000 0.039 0.110 0.184 0.290 0.404 0.498 0.569 0.612 0.639 0.667 0.698 0.729 0.753 0.761 0.733 0.706 0.737 0.800 0.890 1.000"/><feFuncB type="table" tableValues="0.000 0.290 0.471 0.561 0.604 0.624 0.596 0.529 0.439 0.353 0.306 0.298 0.306 0.333 0.369 0.408 0.478 0.576 0.702 0.847 1.000"/></feComponentTransfer></filter>
<filter id="hl0" filterUnits="userSpaceOnUse" x="-150" y="-150" width="300" height="300" color-interpolation-filters="sRGB"><feGaussianBlur in="SourceGraphic" stdDeviation="0.9" result="b"/><feTurbulence type="fractalNoise" baseFrequency="0.03 0.16" numOctaves="2" seed="23" result="t1"/><feColorMatrix in="t1" type="matrix" values="0.36 0 0 0 0 0.36 0 0 0 0 0.36 0 0 0 0 0 0 0 0 1" result="g1"/><feTurbulence type="fractalNoise" baseFrequency="0.16 0.03" numOctaves="2" seed="63" result="t2"/><feColorMatrix in="t2" type="matrix" values="0.36 0 0 0 0 0.36 0 0 0 0 0.36 0 0 0 0 0 0 0 0 1" result="g2"/><feTurbulence type="fractalNoise" baseFrequency="0.09" numOctaves="2" seed="103" result="t3"/><feColorMatrix in="t3" type="matrix" values="0.3 0 0 0 0 0.3 0 0 0 0 0.3 0 0 0 0 0 0 0 0 1" result="g3"/><feComposite in="g1" in2="g2" operator="arithmetic" k1="0" k2="1" k3="1" k4="0" result="s12"/><feComposite in="s12" in2="g3" operator="arithmetic" k1="0" k2="1" k3="1" k4="0" result="s"/><feComposite in="b" in2="s" operator="arithmetic" k1="0" k2="1" k3="1" k4="-0.510" result="v"/><feComponentTransfer in="v"><feFuncR type="table" tableValues="0.000 0.039 0.118 0.176 0.180 0.169 0.165 0.180 0.227 0.271 0.333 0.431 0.541 0.647 0.737 0.804 0.851 0.890 0.925 0.961 1.000"/><feFuncG type="table" tableValues="0.000 0.039 0.110 0.184 0.290 0.404 0.498 0.569 0.612 0.639 0.667 0.698 0.729 0.753 0.761 0.733 0.706 0.737 0.800 0.890 1.000"/><feFuncB type="table" tableValues="0.000 0.290 0.471 0.561 0.604 0.624 0.596 0.529 0.439 0.353 0.306 0.298 0.306 0.333 0.369 0.408 0.478 0.576 0.702 0.847 1.000"/></feComponentTransfer></filter>
<filter id="hg1" filterUnits="userSpaceOnUse" x="-150" y="-150" width="300" height="300" color-interpolation-filters="sRGB"><feGaussianBlur in="SourceGraphic" stdDeviation="1.3" result="b"/><feTurbulence type="fractalNoise" baseFrequency="0.022 0.22" numOctaves="2" seed="4" result="t1"/><feColorMatrix in="t1" type="matrix" values="0.12 0 0 0 0 0.12 0 0 0 0 0.12 0 0 0 0 0 0 0 0 1" result="g1"/><feTurbulence type="fractalNoise" baseFrequency="0.22 0.022" numOctaves="2" seed="44" result="t2"/><feColorMatrix in="t2" type="matrix" values="0.12 0 0 0 0 0.12 0 0 0 0 0.12 0 0 0 0 0 0 0 0 1" result="g2"/><feTurbulence type="fractalNoise" baseFrequency="0.07" numOctaves="2" seed="84" result="t3"/><feColorMatrix in="t3" type="matrix" values="0.14 0 0 0 0 0.14 0 0 0 0 0.14 0 0 0 0 0 0 0 0 1" result="g3"/><feComposite in="g1" in2="g2" operator="arithmetic" k1="0" k2="1" k3="1" k4="0" result="s12"/><feComposite in="s12" in2="g3" operator="arithmetic" k1="0" k2="1" k3="1" k4="0" result="s"/><feComposite in="b" in2="s" operator="arithmetic" k1="0" k2="1" k3="1" k4="-0.190" result="v"/><feComponentTransfer in="v"><feFuncR type="table" tableValues="0.000 0.039 0.118 0.176 0.180 0.169 0.165 0.180 0.227 0.271 0.333 0.431 0.541 0.647 0.737 0.804 0.851 0.890 0.925 0.961 1.000"/><feFuncG type="table" tableValues="0.000 0.039 0.110 0.184 0.290 0.404 0.498 0.569 0.612 0.639 0.667 0.698 0.729 0.753 0.761 0.733 0.706 0.737 0.800 0.890 1.000"/><feFuncB type="table" tableValues="0.000 0.290 0.471 0.561 0.604 0.624 0.596 0.529 0.439 0.353 0.306 0.298 0.306 0.333 0.369 0.408 0.478 0.576 0.702 0.847 1.000"/></feComponentTransfer></filter>
<filter id="hn1" filterUnits="userSpaceOnUse" x="-150" y="-150" width="300" height="300" color-interpolation-filters="sRGB"><feGaussianBlur in="SourceGraphic" stdDeviation="1.2" result="b"/><feTurbulence type="fractalNoise" baseFrequency="0.022 0.22" numOctaves="2" seed="14" result="t1"/><feColorMatrix in="t1" type="matrix" values="0.09 0 0 0 0 0.09 0 0 0 0 0.09 0 0 0 0 0 0 0 0 1" result="g1"/><feTurbulence type="fractalNoise" baseFrequency="0.22 0.022" numOctaves="2" seed="54" result="t2"/><feColorMatrix in="t2" type="matrix" values="0.09 0 0 0 0 0.09 0 0 0 0 0.09 0 0 0 0 0 0 0 0 1" result="g2"/><feTurbulence type="fractalNoise" baseFrequency="0.07" numOctaves="2" seed="94" result="t3"/><feColorMatrix in="t3" type="matrix" values="0.1 0 0 0 0 0.1 0 0 0 0 0.1 0 0 0 0 0 0 0 0 1" result="g3"/><feComposite in="g1" in2="g2" operator="arithmetic" k1="0" k2="1" k3="1" k4="0" result="s12"/><feComposite in="s12" in2="g3" operator="arithmetic" k1="0" k2="1" k3="1" k4="0" result="s"/><feComposite in="b" in2="s" operator="arithmetic" k1="0" k2="1" k3="1" k4="-0.140" result="v"/><feComponentTransfer in="v"><feFuncR type="table" tableValues="0.000 0.039 0.118 0.176 0.180 0.169 0.165 0.180 0.227 0.271 0.333 0.431 0.541 0.647 0.737 0.804 0.851 0.890 0.925 0.961 1.000"/><feFuncG type="table" tableValues="0.000 0.039 0.110 0.184 0.290 0.404 0.498 0.569 0.612 0.639 0.667 0.698 0.729 0.753 0.761 0.733 0.706 0.737 0.800 0.890 1.000"/><feFuncB type="table" tableValues="0.000 0.290 0.471 0.561 0.604 0.624 0.596 0.529 0.439 0.353 0.306 0.298 0.306 0.333 0.369 0.408 0.478 0.576 0.702 0.847 1.000"/></feComponentTransfer></filter>
<filter id="hl1" filterUnits="userSpaceOnUse" x="-150" y="-150" width="300" height="300" color-interpolation-filters="sRGB"><feGaussianBlur in="SourceGraphic" stdDeviation="0.9" result="b"/><feTurbulence type="fractalNoise" baseFrequency="0.03 0.16" numOctaves="2" seed="24" result="t1"/><feColorMatrix in="t1" type="matrix" values="0.36 0 0 0 0 0.36 0 0 0 0 0.36 0 0 0 0 0 0 0 0 1" result="g1"/><feTurbulence type="fractalNoise" baseFrequency="0.16 0.03" numOctaves="2" seed="64" result="t2"/><feColorMatrix in="t2" type="matrix" values="0.36 0 0 0 0 0.36 0 0 0 0 0.36 0 0 0 0 0 0 0 0 1" result="g2"/><feTurbulence type="fractalNoise" baseFrequency="0.09" numOctaves="2" seed="104" result="t3"/><feColorMatrix in="t3" type="matrix" values="0.3 0 0 0 0 0.3 0 0 0 0 0.3 0 0 0 0 0 0 0 0 1" result="g3"/><feComposite in="g1" in2="g2" operator="arithmetic" k1="0" k2="1" k3="1" k4="0" result="s12"/><feComposite in="s12" in2="g3" operator="arithmetic" k1="0" k2="1" k3="1" k4="0" result="s"/><feComposite in="b" in2="s" operator="arithmetic" k1="0" k2="1" k3="1" k4="-0.510" result="v"/><feComponentTransfer in="v"><feFuncR type="table" tableValues="0.000 0.039 0.118 0.176 0.180 0.169 0.165 0.180 0.227 0.271 0.333 0.431 0.541 0.647 0.737 0.804 0.851 0.890 0.925 0.961 1.000"/><feFuncG type="table" tableValues="0.000 0.039 0.110 0.184 0.290 0.404 0.498 0.569 0.612 0.639 0.667 0.698 0.729 0.753 0.761 0.733 0.706 0.737 0.800 0.890 1.000"/><feFuncB type="table" tableValues="0.000 0.290 0.471 0.561 0.604 0.624 0.596 0.529 0.439 0.353 0.306 0.298 0.306 0.333 0.369 0.408 0.478 0.576 0.702 0.847 1.000"/></feComponentTransfer></filter>
<filter id="hg2" filterUnits="userSpaceOnUse" x="-150" y="-150" width="300" height="300" color-interpolation-filters="sRGB"><feGaussianBlur in="SourceGraphic" stdDeviation="1.3" result="b"/><feTurbulence type="fractalNoise" baseFrequency="0.022 0.22" numOctaves="2" seed="5" result="t1"/><feColorMatrix in="t1" type="matrix" values="0.12 0 0 0 0 0.12 0 0 0 0 0.12 0 0 0 0 0 0 0 0 1" result="g1"/><feTurbulence type="fractalNoise" baseFrequency="0.22 0.022" numOctaves="2" seed="45" result="t2"/><feColorMatrix in="t2" type="matrix" values="0.12 0 0 0 0 0.12 0 0 0 0 0.12 0 0 0 0 0 0 0 0 1" result="g2"/><feTurbulence type="fractalNoise" baseFrequency="0.07" numOctaves="2" seed="85" result="t3"/><feColorMatrix in="t3" type="matrix" values="0.14 0 0 0 0 0.14 0 0 0 0 0.14 0 0 0 0 0 0 0 0 1" result="g3"/><feComposite in="g1" in2="g2" operator="arithmetic" k1="0" k2="1" k3="1" k4="0" result="s12"/><feComposite in="s12" in2="g3" operator="arithmetic" k1="0" k2="1" k3="1" k4="0" result="s"/><feComposite in="b" in2="s" operator="arithmetic" k1="0" k2="1" k3="1" k4="-0.190" result="v"/><feComponentTransfer in="v"><feFuncR type="table" tableValues="0.000 0.039 0.118 0.176 0.180 0.169 0.165 0.180 0.227 0.271 0.333 0.431 0.541 0.647 0.737 0.804 0.851 0.890 0.925 0.961 1.000"/><feFuncG type="table" tableValues="0.000 0.039 0.110 0.184 0.290 0.404 0.498 0.569 0.612 0.639 0.667 0.698 0.729 0.753 0.761 0.733 0.706 0.737 0.800 0.890 1.000"/><feFuncB type="table" tableValues="0.000 0.290 0.471 0.561 0.604 0.624 0.596 0.529 0.439 0.353 0.306 0.298 0.306 0.333 0.369 0.408 0.478 0.576 0.702 0.847 1.000"/></feComponentTransfer></filter>
<filter id="hn2" filterUnits="userSpaceOnUse" x="-150" y="-150" width="300" height="300" color-interpolation-filters="sRGB"><feGaussianBlur in="SourceGraphic" stdDeviation="1.2" result="b"/><feTurbulence type="fractalNoise" baseFrequency="0.022 0.22" numOctaves="2" seed="15" result="t1"/><feColorMatrix in="t1" type="matrix" values="0.09 0 0 0 0 0.09 0 0 0 0 0.09 0 0 0 0 0 0 0 0 1" result="g1"/><feTurbulence type="fractalNoise" baseFrequency="0.22 0.022" numOctaves="2" seed="55" result="t2"/><feColorMatrix in="t2" type="matrix" values="0.09 0 0 0 0 0.09 0 0 0 0 0.09 0 0 0 0 0 0 0 0 1" result="g2"/><feTurbulence type="fractalNoise" baseFrequency="0.07" numOctaves="2" seed="95" result="t3"/><feColorMatrix in="t3" type="matrix" values="0.1 0 0 0 0 0.1 0 0 0 0 0.1 0 0 0 0 0 0 0 0 1" result="g3"/><feComposite in="g1" in2="g2" operator="arithmetic" k1="0" k2="1" k3="1" k4="0" result="s12"/><feComposite in="s12" in2="g3" operator="arithmetic" k1="0" k2="1" k3="1" k4="0" result="s"/><feComposite in="b" in2="s" operator="arithmetic" k1="0" k2="1" k3="1" k4="-0.140" result="v"/><feComponentTransfer in="v"><feFuncR type="table" tableValues="0.000 0.039 0.118 0.176 0.180 0.169 0.165 0.180 0.227 0.271 0.333 0.431 0.541 0.647 0.737 0.804 0.851 0.890 0.925 0.961 1.000"/><feFuncG type="table" tableValues="0.000 0.039 0.110 0.184 0.290 0.404 0.498 0.569 0.612 0.639 0.667 0.698 0.729 0.753 0.761 0.733 0.706 0.737 0.800 0.890 1.000"/><feFuncB type="table" tableValues="0.000 0.290 0.471 0.561 0.604 0.624 0.596 0.529 0.439 0.353 0.306 0.298 0.306 0.333 0.369 0.408 0.478 0.576 0.702 0.847 1.000"/></feComponentTransfer></filter>
<filter id="hl2" filterUnits="userSpaceOnUse" x="-150" y="-150" width="300" height="300" color-interpolation-filters="sRGB"><feGaussianBlur in="SourceGraphic" stdDeviation="0.9" result="b"/><feTurbulence type="fractalNoise" baseFrequency="0.03 0.16" numOctaves="2" seed="25" result="t1"/><feColorMatrix in="t1" type="matrix" values="0.36 0 0 0 0 0.36 0 0 0 0 0.36 0 0 0 0 0 0 0 0 1" result="g1"/><feTurbulence type="fractalNoise" baseFrequency="0.16 0.03" numOctaves="2" seed="65" result="t2"/><feColorMatrix in="t2" type="matrix" values="0.36 0 0 0 0 0.36 0 0 0 0 0.36 0 0 0 0 0 0 0 0 1" result="g2"/><feTurbulence type="fractalNoise" baseFrequency="0.09" numOctaves="2" seed="105" result="t3"/><feColorMatrix in="t3" type="matrix" values="0.3 0 0 0 0 0.3 0 0 0 0 0.3 0 0 0 0 0 0 0 0 1" result="g3"/><feComposite in="g1" in2="g2" operator="arithmetic" k1="0" k2="1" k3="1" k4="0" result="s12"/><feComposite in="s12" in2="g3" operator="arithmetic" k1="0" k2="1" k3="1" k4="0" result="s"/><feComposite in="b" in2="s" operator="arithmetic" k1="0" k2="1" k3="1" k4="-0.510" result="v"/><feComponentTransfer in="v"><feFuncR type="table" tableValues="0.000 0.039 0.118 0.176 0.180 0.169 0.165 0.180 0.227 0.271 0.333 0.431 0.541 0.647 0.737 0.804 0.851 0.890 0.925 0.961 1.000"/><feFuncG type="table" tableValues="0.000 0.039 0.110 0.184 0.290 0.404 0.498 0.569 0.612 0.639 0.667 0.698 0.729 0.753 0.761 0.733 0.706 0.737 0.800 0.890 1.000"/><feFuncB type="table" tableValues="0.000 0.290 0.471 0.561 0.604 0.624 0.596 0.529 0.439 0.353 0.306 0.298 0.306 0.333 0.369 0.408 0.478 0.576 0.702 0.847 1.000"/></feComponentTransfer></filter>
<filter id="hg3" filterUnits="userSpaceOnUse" x="-150" y="-150" width="300" height="300" color-interpolation-filters="sRGB"><feGaussianBlur in="SourceGraphic" stdDeviation="1.3" result="b"/><feTurbulence type="fractalNoise" baseFrequency="0.022 0.22" numOctaves="2" seed="6" result="t1"/><feColorMatrix in="t1" type="matrix" values="0.12 0 0 0 0 0.12 0 0 0 0 0.12 0 0 0 0 0 0 0 0 1" result="g1"/><feTurbulence type="fractalNoise" baseFrequency="0.22 0.022" numOctaves="2" seed="46" result="t2"/><feColorMatrix in="t2" type="matrix" values="0.12 0 0 0 0 0.12 0 0 0 0 0.12 0 0 0 0 0 0 0 0 1" result="g2"/><feTurbulence type="fractalNoise" baseFrequency="0.07" numOctaves="2" seed="86" result="t3"/><feColorMatrix in="t3" type="matrix" values="0.14 0 0 0 0 0.14 0 0 0 0 0.14 0 0 0 0 0 0 0 0 1" result="g3"/><feComposite in="g1" in2="g2" operator="arithmetic" k1="0" k2="1" k3="1" k4="0" result="s12"/><feComposite in="s12" in2="g3" operator="arithmetic" k1="0" k2="1" k3="1" k4="0" result="s"/><feComposite in="b" in2="s" operator="arithmetic" k1="0" k2="1" k3="1" k4="-0.190" result="v"/><feComponentTransfer in="v"><feFuncR type="table" tableValues="0.000 0.039 0.118 0.176 0.180 0.169 0.165 0.180 0.227 0.271 0.333 0.431 0.541 0.647 0.737 0.804 0.851 0.890 0.925 0.961 1.000"/><feFuncG type="table" tableValues="0.000 0.039 0.110 0.184 0.290 0.404 0.498 0.569 0.612 0.639 0.667 0.698 0.729 0.753 0.761 0.733 0.706 0.737 0.800 0.890 1.000"/><feFuncB type="table" tableValues="0.000 0.290 0.471 0.561 0.604 0.624 0.596 0.529 0.439 0.353 0.306 0.298 0.306 0.333 0.369 0.408 0.478 0.576 0.702 0.847 1.000"/></feComponentTransfer></filter>
<filter id="hn3" filterUnits="userSpaceOnUse" x="-150" y="-150" width="300" height="300" color-interpolation-filters="sRGB"><feGaussianBlur in="SourceGraphic" stdDeviation="1.2" result="b"/><feTurbulence type="fractalNoise" baseFrequency="0.022 0.22" numOctaves="2" seed="16" result="t1"/><feColorMatrix in="t1" type="matrix" values="0.09 0 0 0 0 0.09 0 0 0 0 0.09 0 0 0 0 0 0 0 0 1" result="g1"/><feTurbulence type="fractalNoise" baseFrequency="0.22 0.022" numOctaves="2" seed="56" result="t2"/><feColorMatrix in="t2" type="matrix" values="0.09 0 0 0 0 0.09 0 0 0 0 0.09 0 0 0 0 0 0 0 0 1" result="g2"/><feTurbulence type="fractalNoise" baseFrequency="0.07" numOctaves="2" seed="96" result="t3"/><feColorMatrix in="t3" type="matrix" values="0.1 0 0 0 0 0.1 0 0 0 0 0.1 0 0 0 0 0 0 0 0 1" result="g3"/><feComposite in="g1" in2="g2" operator="arithmetic" k1="0" k2="1" k3="1" k4="0" result="s12"/><feComposite in="s12" in2="g3" operator="arithmetic" k1="0" k2="1" k3="1" k4="0" result="s"/><feComposite in="b" in2="s" operator="arithmetic" k1="0" k2="1" k3="1" k4="-0.140" result="v"/><feComponentTransfer in="v"><feFuncR type="table" tableValues="0.000 0.039 0.118 0.176 0.180 0.169 0.165 0.180 0.227 0.271 0.333 0.431 0.541 0.647 0.737 0.804 0.851 0.890 0.925 0.961 1.000"/><feFuncG type="table" tableValues="0.000 0.039 0.110 0.184 0.290 0.404 0.498 0.569 0.612 0.639 0.667 0.698 0.729 0.753 0.761 0.733 0.706 0.737 0.800 0.890 1.000"/><feFuncB type="table" tableValues="0.000 0.290 0.471 0.561 0.604 0.624 0.596 0.529 0.439 0.353 0.306 0.298 0.306 0.333 0.369 0.408 0.478 0.576 0.702 0.847 1.000"/></feComponentTransfer></filter>
<filter id="hl3" filterUnits="userSpaceOnUse" x="-150" y="-150" width="300" height="300" color-interpolation-filters="sRGB"><feGaussianBlur in="SourceGraphic" stdDeviation="0.9" result="b"/><feTurbulence type="fractalNoise" baseFrequency="0.03 0.16" numOctaves="2" seed="26" result="t1"/><feColorMatrix in="t1" type="matrix" values="0.36 0 0 0 0 0.36 0 0 0 0 0.36 0 0 0 0 0 0 0 0 1" result="g1"/><feTurbulence type="fractalNoise" baseFrequency="0.16 0.03" numOctaves="2" seed="66" result="t2"/><feColorMatrix in="t2" type="matrix" values="0.36 0 0 0 0 0.36 0 0 0 0 0.36 0 0 0 0 0 0 0 0 1" result="g2"/><feTurbulence type="fractalNoise" baseFrequency="0.09" numOctaves="2" seed="106" result="t3"/><feColorMatrix in="t3" type="matrix" values="0.3 0 0 0 0 0.3 0 0 0 0 0.3 0 0 0 0 0 0 0 0 1" result="g3"/><feComposite in="g1" in2="g2" operator="arithmetic" k1="0" k2="1" k3="1" k4="0" result="s12"/><feComposite in="s12" in2="g3" operator="arithmetic" k1="0" k2="1" k3="1" k4="0" result="s"/><feComposite in="b" in2="s" operator="arithmetic" k1="0" k2="1" k3="1" k4="-0.510" result="v"/><feComponentTransfer in="v"><feFuncR type="table" tableValues="0.000 0.039 0.118 0.176 0.180 0.169 0.165 0.180 0.227 0.271 0.333 0.431 0.541 0.647 0.737 0.804 0.851 0.890 0.925 0.961 1.000"/><feFuncG type="table" tableValues="0.000 0.039 0.110 0.184 0.290 0.404 0.498 0.569 0.612 0.639 0.667 0.698 0.729 0.753 0.761 0.733 0.706 0.737 0.800 0.890 1.000"/><feFuncB type="table" tableValues="0.000 0.290 0.471 0.561 0.604 0.624 0.596 0.529 0.439 0.353 0.306 0.298 0.306 0.333 0.369 0.408 0.478 0.576 0.702 0.847 1.000"/></feComponentTransfer></filter>
<filter id="hg4" filterUnits="userSpaceOnUse" x="-150" y="-150" width="300" height="300" color-interpolation-filters="sRGB"><feGaussianBlur in="SourceGraphic" stdDeviation="1.3" result="b"/><feTurbulence type="fractalNoise" baseFrequency="0.022 0.22" numOctaves="2" seed="7" result="t1"/><feColorMatrix in="t1" type="matrix" values="0.12 0 0 0 0 0.12 0 0 0 0 0.12 0 0 0 0 0 0 0 0 1" result="g1"/><feTurbulence type="fractalNoise" baseFrequency="0.22 0.022" numOctaves="2" seed="47" result="t2"/><feColorMatrix in="t2" type="matrix" values="0.12 0 0 0 0 0.12 0 0 0 0 0.12 0 0 0 0 0 0 0 0 1" result="g2"/><feTurbulence type="fractalNoise" baseFrequency="0.07" numOctaves="2" seed="87" result="t3"/><feColorMatrix in="t3" type="matrix" values="0.14 0 0 0 0 0.14 0 0 0 0 0.14 0 0 0 0 0 0 0 0 1" result="g3"/><feComposite in="g1" in2="g2" operator="arithmetic" k1="0" k2="1" k3="1" k4="0" result="s12"/><feComposite in="s12" in2="g3" operator="arithmetic" k1="0" k2="1" k3="1" k4="0" result="s"/><feComposite in="b" in2="s" operator="arithmetic" k1="0" k2="1" k3="1" k4="-0.190" result="v"/><feComponentTransfer in="v"><feFuncR type="table" tableValues="0.000 0.039 0.118 0.176 0.180 0.169 0.165 0.180 0.227 0.271 0.333 0.431 0.541 0.647 0.737 0.804 0.851 0.890 0.925 0.961 1.000"/><feFuncG type="table" tableValues="0.000 0.039 0.110 0.184 0.290 0.404 0.498 0.569 0.612 0.639 0.667 0.698 0.729 0.753 0.761 0.733 0.706 0.737 0.800 0.890 1.000"/><feFuncB type="table" tableValues="0.000 0.290 0.471 0.561 0.604 0.624 0.596 0.529 0.439 0.353 0.306 0.298 0.306 0.333 0.369 0.408 0.478 0.576 0.702 0.847 1.000"/></feComponentTransfer></filter>
<filter id="hn4" filterUnits="userSpaceOnUse" x="-150" y="-150" width="300" height="300" color-interpolation-filters="sRGB"><feGaussianBlur in="SourceGraphic" stdDeviation="1.2" result="b"/><feTurbulence type="fractalNoise" baseFrequency="0.022 0.22" numOctaves="2" seed="17" result="t1"/><feColorMatrix in="t1" type="matrix" values="0.09 0 0 0 0 0.09 0 0 0 0 0.09 0 0 0 0 0 0 0 0 1" result="g1"/><feTurbulence type="fractalNoise" baseFrequency="0.22 0.022" numOctaves="2" seed="57" result="t2"/><feColorMatrix in="t2" type="matrix" values="0.09 0 0 0 0 0.09 0 0 0 0 0.09 0 0 0 0 0 0 0 0 1" result="g2"/><feTurbulence type="fractalNoise" baseFrequency="0.07" numOctaves="2" seed="97" result="t3"/><feColorMatrix in="t3" type="matrix" values="0.1 0 0 0 0 0.1 0 0 0 0 0.1 0 0 0 0 0 0 0 0 1" result="g3"/><feComposite in="g1" in2="g2" operator="arithmetic" k1="0" k2="1" k3="1" k4="0" result="s12"/><feComposite in="s12" in2="g3" operator="arithmetic" k1="0" k2="1" k3="1" k4="0" result="s"/><feComposite in="b" in2="s" operator="arithmetic" k1="0" k2="1" k3="1" k4="-0.140" result="v"/><feComponentTransfer in="v"><feFuncR type="table" tableValues="0.000 0.039 0.118 0.176 0.180 0.169 0.165 0.180 0.227 0.271 0.333 0.431 0.541 0.647 0.737 0.804 0.851 0.890 0.925 0.961 1.000"/><feFuncG type="table" tableValues="0.000 0.039 0.110 0.184 0.290 0.404 0.498 0.569 0.612 0.639 0.667 0.698 0.729 0.753 0.761 0.733 0.706 0.737 0.800 0.890 1.000"/><feFuncB type="table" tableValues="0.000 0.290 0.471 0.561 0.604 0.624 0.596 0.529 0.439 0.353 0.306 0.298 0.306 0.333 0.369 0.408 0.478 0.576 0.702 0.847 1.000"/></feComponentTransfer></filter>
<filter id="hl4" filterUnits="userSpaceOnUse" x="-150" y="-150" width="300" height="300" color-interpolation-filters="sRGB"><feGaussianBlur in="SourceGraphic" stdDeviation="0.9" result="b"/><feTurbulence type="fractalNoise" baseFrequency="0.03 0.16" numOctaves="2" seed="27" result="t1"/><feColorMatrix in="t1" type="matrix" values="0.36 0 0 0 0 0.36 0 0 0 0 0.36 0 0 0 0 0 0 0 0 1" result="g1"/><feTurbulence type="fractalNoise" baseFrequency="0.16 0.03" numOctaves="2" seed="67" result="t2"/><feColorMatrix in="t2" type="matrix" values="0.36 0 0 0 0 0.36 0 0 0 0 0.36 0 0 0 0 0 0 0 0 1" result="g2"/><feTurbulence type="fractalNoise" baseFrequency="0.09" numOctaves="2" seed="107" result="t3"/><feColorMatrix in="t3" type="matrix" values="0.3 0 0 0 0 0.3 0 0 0 0 0.3 0 0 0 0 0 0 0 0 1" result="g3"/><feComposite in="g1" in2="g2" operator="arithmetic" k1="0" k2="1" k3="1" k4="0" result="s12"/><feComposite in="s12" in2="g3" operator="arithmetic" k1="0" k2="1" k3="1" k4="0" result="s"/><feComposite in="b" in2="s" operator="arithmetic" k1="0" k2="1" k3="1" k4="-0.510" result="v"/><feComponentTransfer in="v"><feFuncR type="table" tableValues="0.000 0.039 0.118 0.176 0.180 0.169 0.165 0.180 0.227 0.271 0.333 0.431 0.541 0.647 0.737 0.804 0.851 0.890 0.925 0.961 1.000"/><feFuncG type="table" tableValues="0.000 0.039 0.110 0.184 0.290 0.404 0.498 0.569 0.612 0.639 0.667 0.698 0.729 0.753 0.761 0.733 0.706 0.737 0.800 0.890 1.000"/><feFuncB type="table" tableValues="0.000 0.290 0.471 0.561 0.604 0.624 0.596 0.529 0.439 0.353 0.306 0.298 0.306 0.333 0.369 0.408 0.478 0.576 0.702 0.847 1.000"/></feComponentTransfer></filter>
<filter id="hg5" filterUnits="userSpaceOnUse" x="-150" y="-150" width="300" height="300" color-interpolation-filters="sRGB"><feGaussianBlur in="SourceGraphic" stdDeviation="1.3" result="b"/><feTurbulence type="fractalNoise" baseFrequency="0.022 0.22" numOctaves="2" seed="8" result="t1"/><feColorMatrix in="t1" type="matrix" values="0.12 0 0 0 0 0.12 0 0 0 0 0.12 0 0 0 0 0 0 0 0 1" result="g1"/><feTurbulence type="fractalNoise" baseFrequency="0.22 0.022" numOctaves="2" seed="48" result="t2"/><feColorMatrix in="t2" type="matrix" values="0.12 0 0 0 0 0.12 0 0 0 0 0.12 0 0 0 0 0 0 0 0 1" result="g2"/><feTurbulence type="fractalNoise" baseFrequency="0.07" numOctaves="2" seed="88" result="t3"/><feColorMatrix in="t3" type="matrix" values="0.14 0 0 0 0 0.14 0 0 0 0 0.14 0 0 0 0 0 0 0 0 1" result="g3"/><feComposite in="g1" in2="g2" operator="arithmetic" k1="0" k2="1" k3="1" k4="0" result="s12"/><feComposite in="s12" in2="g3" operator="arithmetic" k1="0" k2="1" k3="1" k4="0" result="s"/><feComposite in="b" in2="s" operator="arithmetic" k1="0" k2="1" k3="1" k4="-0.190" result="v"/><feComponentTransfer in="v"><feFuncR type="table" tableValues="0.000 0.039 0.118 0.176 0.180 0.169 0.165 0.180 0.227 0.271 0.333 0.431 0.541 0.647 0.737 0.804 0.851 0.890 0.925 0.961 1.000"/><feFuncG type="table" tableValues="0.000 0.039 0.110 0.184 0.290 0.404 0.498 0.569 0.612 0.639 0.667 0.698 0.729 0.753 0.761 0.733 0.706 0.737 0.800 0.890 1.000"/><feFuncB type="table" tableValues="0.000 0.290 0.471 0.561 0.604 0.624 0.596 0.529 0.439 0.353 0.306 0.298 0.306 0.333 0.369 0.408 0.478 0.576 0.702 0.847 1.000"/></feComponentTransfer></filter>
<filter id="hn5" filterUnits="userSpaceOnUse" x="-150" y="-150" width="300" height="300" color-interpolation-filters="sRGB"><feGaussianBlur in="SourceGraphic" stdDeviation="1.2" result="b"/><feTurbulence type="fractalNoise" baseFrequency="0.022 0.22" numOctaves="2" seed="18" result="t1"/><feColorMatrix in="t1" type="matrix" values="0.09 0 0 0 0 0.09 0 0 0 0 0.09 0 0 0 0 0 0 0 0 1" result="g1"/><feTurbulence type="fractalNoise" baseFrequency="0.22 0.022" numOctaves="2" seed="58" result="t2"/><feColorMatrix in="t2" type="matrix" values="0.09 0 0 0 0 0.09 0 0 0 0 0.09 0 0 0 0 0 0 0 0 1" result="g2"/><feTurbulence type="fractalNoise" baseFrequency="0.07" numOctaves="2" seed="98" result="t3"/><feColorMatrix in="t3" type="matrix" values="0.1 0 0 0 0 0.1 0 0 0 0 0.1 0 0 0 0 0 0 0 0 1" result="g3"/><feComposite in="g1" in2="g2" operator="arithmetic" k1="0" k2="1" k3="1" k4="0" result="s12"/><feComposite in="s12" in2="g3" operator="arithmetic" k1="0" k2="1" k3="1" k4="0" result="s"/><feComposite in="b" in2="s" operator="arithmetic" k1="0" k2="1" k3="1" k4="-0.140" result="v"/><feComponentTransfer in="v"><feFuncR type="table" tableValues="0.000 0.039 0.118 0.176 0.180 0.169 0.165 0.180 0.227 0.271 0.333 0.431 0.541 0.647 0.737 0.804 0.851 0.890 0.925 0.961 1.000"/><feFuncG type="table" tableValues="0.000 0.039 0.110 0.184 0.290 0.404 0.498 0.569 0.612 0.639 0.667 0.698 0.729 0.753 0.761 0.733 0.706 0.737 0.800 0.890 1.000"/><feFuncB type="table" tableValues="0.000 0.290 0.471 0.561 0.604 0.624 0.596 0.529 0.439 0.353 0.306 0.298 0.306 0.333 0.369 0.408 0.478 0.576 0.702 0.847 1.000"/></feComponentTransfer></filter>
<filter id="hl5" filterUnits="userSpaceOnUse" x="-150" y="-150" width="300" height="300" color-interpolation-filters="sRGB"><feGaussianBlur in="SourceGraphic" stdDeviation="0.9" result="b"/><feTurbulence type="fractalNoise" baseFrequency="0.03 0.16" numOctaves="2" seed="28" result="t1"/><feColorMatrix in="t1" type="matrix" values="0.36 0 0 0 0 0.36 0 0 0 0 0.36 0 0 0 0 0 0 0 0 1" result="g1"/><feTurbulence type="fractalNoise" baseFrequency="0.16 0.03" numOctaves="2" seed="68" result="t2"/><feColorMatrix in="t2" type="matrix" values="0.36 0 0 0 0 0.36 0 0 0 0 0.36 0 0 0 0 0 0 0 0 1" result="g2"/><feTurbulence type="fractalNoise" baseFrequency="0.09" numOctaves="2" seed="108" result="t3"/><feColorMatrix in="t3" type="matrix" values="0.3 0 0 0 0 0.3 0 0 0 0 0.3 0 0 0 0 0 0 0 0 1" result="g3"/><feComposite in="g1" in2="g2" operator="arithmetic" k1="0" k2="1" k3="1" k4="0" result="s12"/><feComposite in="s12" in2="g3" operator="arithmetic" k1="0" k2="1" k3="1" k4="0" result="s"/><feComposite in="b" in2="s" operator="arithmetic" k1="0" k2="1" k3="1" k4="-0.510" result="v"/><feComponentTransfer in="v"><feFuncR type="table" tableValues="0.000 0.039 0.118 0.176 0.180 0.169 0.165 0.180 0.227 0.271 0.333 0.431 0.541 0.647 0.737 0.804 0.851 0.890 0.925 0.961 1.000"/><feFuncG type="table" tableValues="0.000 0.039 0.110 0.184 0.290 0.404 0.498 0.569 0.612 0.639 0.667 0.698 0.729 0.753 0.761 0.733 0.706 0.737 0.800 0.890 1.000"/><feFuncB type="table" tableValues="0.000 0.290 0.471 0.561 0.604 0.624 0.596 0.529 0.439 0.353 0.306 0.298 0.306 0.333 0.369 0.408 0.478 0.576 0.702 0.847 1.000"/></feComponentTransfer></filter>
<filter id="hg6" filterUnits="userSpaceOnUse" x="-150" y="-150" width="300" height="300" color-interpolation-filters="sRGB"><feGaussianBlur in="SourceGraphic" stdDeviation="1.3" result="b"/><feTurbulence type="fractalNoise" baseFrequency="0.022 0.22" numOctaves="2" seed="9" result="t1"/><feColorMatrix in="t1" type="matrix" values="0.12 0 0 0 0 0.12 0 0 0 0 0.12 0 0 0 0 0 0 0 0 1" result="g1"/><feTurbulence type="fractalNoise" baseFrequency="0.22 0.022" numOctaves="2" seed="49" result="t2"/><feColorMatrix in="t2" type="matrix" values="0.12 0 0 0 0 0.12 0 0 0 0 0.12 0 0 0 0 0 0 0 0 1" result="g2"/><feTurbulence type="fractalNoise" baseFrequency="0.07" numOctaves="2" seed="89" result="t3"/><feColorMatrix in="t3" type="matrix" values="0.14 0 0 0 0 0.14 0 0 0 0 0.14 0 0 0 0 0 0 0 0 1" result="g3"/><feComposite in="g1" in2="g2" operator="arithmetic" k1="0" k2="1" k3="1" k4="0" result="s12"/><feComposite in="s12" in2="g3" operator="arithmetic" k1="0" k2="1" k3="1" k4="0" result="s"/><feComposite in="b" in2="s" operator="arithmetic" k1="0" k2="1" k3="1" k4="-0.190" result="v"/><feComponentTransfer in="v"><feFuncR type="table" tableValues="0.000 0.039 0.118 0.176 0.180 0.169 0.165 0.180 0.227 0.271 0.333 0.431 0.541 0.647 0.737 0.804 0.851 0.890 0.925 0.961 1.000"/><feFuncG type="table" tableValues="0.000 0.039 0.110 0.184 0.290 0.404 0.498 0.569 0.612 0.639 0.667 0.698 0.729 0.753 0.761 0.733 0.706 0.737 0.800 0.890 1.000"/><feFuncB type="table" tableValues="0.000 0.290 0.471 0.561 0.604 0.624 0.596 0.529 0.439 0.353 0.306 0.298 0.306 0.333 0.369 0.408 0.478 0.576 0.702 0.847 1.000"/></feComponentTransfer></filter>
<filter id="hn6" filterUnits="userSpaceOnUse" x="-150" y="-150" width="300" height="300" color-interpolation-filters="sRGB"><feGaussianBlur in="SourceGraphic" stdDeviation="1.2" result="b"/><feTurbulence type="fractalNoise" baseFrequency="0.022 0.22" numOctaves="2" seed="19" result="t1"/><feColorMatrix in="t1" type="matrix" values="0.09 0 0 0 0 0.09 0 0 0 0 0.09 0 0 0 0 0 0 0 0 1" result="g1"/><feTurbulence type="fractalNoise" baseFrequency="0.22 0.022" numOctaves="2" seed="59" result="t2"/><feColorMatrix in="t2" type="matrix" values="0.09 0 0 0 0 0.09 0 0 0 0 0.09 0 0 0 0 0 0 0 0 1" result="g2"/><feTurbulence type="fractalNoise" baseFrequency="0.07" numOctaves="2" seed="99" result="t3"/><feColorMatrix in="t3" type="matrix" values="0.1 0 0 0 0 0.1 0 0 0 0 0.1 0 0 0 0 0 0 0 0 1" result="g3"/><feComposite in="g1" in2="g2" operator="arithmetic" k1="0" k2="1" k3="1" k4="0" result="s12"/><feComposite in="s12" in2="g3" operator="arithmetic" k1="0" k2="1" k3="1" k4="0" result="s"/><feComposite in="b" in2="s" operator="arithmetic" k1="0" k2="1" k3="1" k4="-0.140" result="v"/><feComponentTransfer in="v"><feFuncR type="table" tableValues="0.000 0.039 0.118 0.176 0.180 0.169 0.165 0.180 0.227 0.271 0.333 0.431 0.541 0.647 0.737 0.804 0.851 0.890 0.925 0.961 1.000"/><feFuncG type="table" tableValues="0.000 0.039 0.110 0.184 0.290 0.404 0.498 0.569 0.612 0.639 0.667 0.698 0.729 0.753 0.761 0.733 0.706 0.737 0.800 0.890 1.000"/><feFuncB type="table" tableValues="0.000 0.290 0.471 0.561 0.604 0.624 0.596 0.529 0.439 0.353 0.306 0.298 0.306 0.333 0.369 0.408 0.478 0.576 0.702 0.847 1.000"/></feComponentTransfer></filter>
<filter id="hl6" filterUnits="userSpaceOnUse" x="-150" y="-150" width="300" height="300" color-interpolation-filters="sRGB"><feGaussianBlur in="SourceGraphic" stdDeviation="0.9" result="b"/><feTurbulence type="fractalNoise" baseFrequency="0.03 0.16" numOctaves="2" seed="29" result="t1"/><feColorMatrix in="t1" type="matrix" values="0.36 0 0 0 0 0.36 0 0 0 0 0.36 0 0 0 0 0 0 0 0 1" result="g1"/><feTurbulence type="fractalNoise" baseFrequency="0.16 0.03" numOctaves="2" seed="69" result="t2"/><feColorMatrix in="t2" type="matrix" values="0.36 0 0 0 0 0.36 0 0 0 0 0.36 0 0 0 0 0 0 0 0 1" result="g2"/><feTurbulence type="fractalNoise" baseFrequency="0.09" numOctaves="2" seed="109" result="t3"/><feColorMatrix in="t3" type="matrix" values="0.3 0 0 0 0 0.3 0 0 0 0 0.3 0 0 0 0 0 0 0 0 1" result="g3"/><feComposite in="g1" in2="g2" operator="arithmetic" k1="0" k2="1" k3="1" k4="0" result="s12"/><feComposite in="s12" in2="g3" operator="arithmetic" k1="0" k2="1" k3="1" k4="0" result="s"/><feComposite in="b" in2="s" operator="arithmetic" k1="0" k2="1" k3="1" k4="-0.510" result="v"/><feComponentTransfer in="v"><feFuncR type="table" tableValues="0.000 0.039 0.118 0.176 0.180 0.169 0.165 0.180 0.227 0.271 0.333 0.431 0.541 0.647 0.737 0.804 0.851 0.890 0.925 0.961 1.000"/><feFuncG type="table" tableValues="0.000 0.039 0.110 0.184 0.290 0.404 0.498 0.569 0.612 0.639 0.667 0.698 0.729 0.753 0.761 0.733 0.706 0.737 0.800 0.890 1.000"/><feFuncB type="table" tableValues="0.000 0.290 0.471 0.561 0.604 0.624 0.596 0.529 0.439 0.353 0.306 0.298 0.306 0.333 0.369 0.408 0.478 0.576 0.702 0.847 1.000"/></feComponentTransfer></filter>
</defs>
<g id="heatmaps">
<g transform="translate(100.4 415.6)">
<g clip-path="url(#hclip)">
<g transform="translate(92.5 35.1) scale(1 1.114) rotate(45)" filter="url(#hg0)">
<g transform="rotate(-45) scale(1 0.8977) translate(-92.5 -35.1)">
<rect x="-8" y="-8" width="201.0" height="86.2" fill="#838383"/>
<polygon points="14.4,-8.0 172.9,-8.0 92.5,80.0" fill="#6c6c6c"/>
<polygon points="66.5,-8.0 126.5,-8.0 98.5,40.0" fill="#b2b2b2" filter="url(#soft6)"/>
<line x1="14.4" y1="-8.0" x2="84.9" y2="71.0" stroke="#a8a8a8" stroke-width="12.0" filter="url(#soft2)"/>
<line x1="14.4" y1="-8.0" x2="83.1" y2="69.0" stroke="#c3c3c3" stroke-width="6.5" filter="url(#soft1)"/>
<line x1="172.9" y1="-8.0" x2="99.5" y2="71.0" stroke="#a8a8a8" stroke-width="12.0" filter="url(#soft2)"/>
<line x1="172.9" y1="-8.0" x2="101.3" y2="69.0" stroke="#c3c3c3" stroke-width="6.5" filter="url(#soft1)"/>
<polygon points="92.5,71.2 82.9,57.7 88.5,51.2 96.5,51.2 102.1,57.7" fill="#454545" filter="url(#soft2)"/>
<polygon points="92.5,70.2 87.2,59.5 88.9,56.2 96.1,56.2 97.8,59.5" fill="#292929"/>
</g></g>
</g>
<rect x="1.3" y="1.3" width="182.4" height="67.6" fill="none" stroke="#000" stroke-width="2.6"/>
<path d="M90.5 2 L92.5 4.5 L94.5 2 Z" fill="#000"/>
</g>
<g transform="translate(294.5 415.6)">
<g clip-path="url(#hclip)">
<g transform="translate(92.5 35.1) scale(1 1.114) rotate(45)" filter="url(#hn0)">
<g transform="rotate(-45) scale(1 0.8977) translate(-92.5 -35.1)">
<rect x="-8" y="-8" width="201.0" height="86.2" fill="#818181"/>
<line x1="10.4" y1="-8.0" x2="83.6" y2="74.0" stroke="#b2b2b2" stroke-width="20.0" filter="url(#soft3)"/>
<line x1="176.9" y1="-8.0" x2="100.7" y2="74.0" stroke="#b2b2b2" stroke-width="20.0" filter="url(#soft3)"/>
<polygon points="14.4,-8.0 172.9,-8.0 92.5,80.0" fill="url(#ncg)"/>
<ellipse cx="94.5" cy="4" rx="30" ry="13" fill="#6e6e6e" filter="url(#soft6)"/>
<line x1="13.6" y1="-8.0" x2="83.2" y2="70.0" stroke="#cccccc" stroke-width="12.0"/>
<line x1="14.4" y1="-8.0" x2="77.8" y2="63.0" stroke="#ffffff" stroke-width="8.6" stroke-linecap="round"/>
<line x1="14.4" y1="-8.0" x2="76.0" y2="61.0" stroke="#ffffff" stroke-width="7.4" stroke-linecap="round"/>
<line x1="173.7" y1="-8.0" x2="101.2" y2="70.0" stroke="#cccccc" stroke-width="12.0"/>
<line x1="172.9" y1="-8.0" x2="106.9" y2="63.0" stroke="#ffffff" stroke-width="8.6" stroke-linecap="round"/>
<line x1="172.9" y1="-8.0" x2="108.8" y2="61.0" stroke="#ffffff" stroke-width="7.4" stroke-linecap="round"/>
<polygon points="92.5,78.2 73.0,38.0 76.0,32.5 116.0,32.5 119.0,37.0" fill="#1a1a1a" filter="url(#soft1)"/>
</g></g>
<polygon points="91.0,72.2 76.5,39.0 78.5,35.5 83.2,36.2 87.5,33.8 91.8,36.2 96.0,33.8 100.2,36.2 104.5,33.8 108.8,36.2 113.5,35.5 115.5,38.0 94.0,72.2" fill="#000" filter="url(#soft1)"/>
</g>
<rect x="1.3" y="1.3" width="182.4" height="67.6" fill="none" stroke="#000" stroke-width="2.6"/>
<path d="M90.5 2 L92.5 4.5 L94.5 2 Z" fill="#000"/>
</g>
<g transform="translate(488.8 415.6)">
<g clip-path="url(#hclip)">
<g transform="translate(92.5 35.1) scale(1 1.114) rotate(45)" filter="url(#hl0)">
<g transform="rotate(-45) scale(1 0.8977) translate(-92.5 -35.1)">
<rect x="-8" y="-8" width="201.0" height="86.2" fill="#7c7c7c"/>
<polygon points="14.4,-8.0 172.9,-8.0 92.5,80.0" fill="#666666"/>
<polygon points="62.5,-8.0 137.5,-8.0 100.5,62.0" fill="#545454" filter="url(#soft6)"/>
<polygon points="178.9,-8.0 193.0,-8.0 193.0,78.2 118.5,78.2" fill="#999999" filter="url(#soft3)"/>
<polygon points="-8.0,-8.0 14.0,-8.0 -8.0,50.0" fill="#949494" filter="url(#soft3)"/>
<polygon points="-8.0,78.2 60.0,78.2 20.0,40.0 -8.0,30.0" fill="#8a8a8a" filter="url(#soft3)"/>
<line x1="14.4" y1="-8.0" x2="82.2" y2="68.0" stroke="#cccccc" stroke-width="8.0" stroke-dasharray="10 3 6 4 13 3" stroke-dashoffset="0"/>
<line x1="172.9" y1="-8.0" x2="113.4" y2="56.0" stroke="#c7c7c7" stroke-width="7.0" stroke-dasharray="5 7 8 5 4 9 7 6" stroke-dashoffset="0"/>
<line x1="55.4" y1="38.0" x2="78.7" y2="64.0" stroke="#ffffff" stroke-width="6.4" stroke-linecap="round"/>
<ellipse cx="36" cy="26" rx="14" ry="3.5" transform="rotate(48 36 26)" fill="#5c5c5c"/>
<ellipse cx="124" cy="30" rx="6" ry="4" transform="rotate(-45 124 30)" fill="#383838"/>
<ellipse cx="8" cy="6" rx="6" ry="4" transform="rotate(0 8 6)" fill="#545454"/>
<ellipse cx="100" cy="36" rx="10" ry="6" transform="rotate(-30 100 36)" fill="#4c4c4c"/>
<ellipse cx="68" cy="22" rx="5" ry="3" transform="rotate(-40 68 22)" fill="#4c4c4c"/>
<ellipse cx="97.5" cy="50.2" rx="16.0" ry="12.0" fill="#2b2b2b" transform="rotate(-30 97.5 50.2)"/>
<polygon points="90.5,71.2 86.5,58.2 88.5,51.2 98.5,49.2 105.5,44.2 110.5,48.2 102.5,60.2 95.5,71.2" fill="#000000"/>
</g></g>
<polygon points="91.5,71.2 88.5,58.2 90.5,53.2 98.5,51.2 105.5,46.2 108.5,49.2 101.5,60.2 94.5,71.2" fill="#000" filter="url(#soft1)"/>
</g>
<rect x="1.3" y="1.3" width="182.4" height="67.6" fill="none" stroke="#000" stroke-width="2.6"/>
<path d="M90.5 2 L92.5 4.5 L94.5 2 Z" fill="#000"/>
</g>
<g transform="translate(100.4 496.8)">
<g clip-path="url(#hclip)">
<g transform="translate(92.5 35.1) scale(1 1.114) rotate(45)" filter="url(#hg1)">
<g transform="rotate(-45) scale(1 0.8977) translate(-92.5 -35.1)">
<rect x="-8" y="-8" width="201.0" height="86.2" fill="#838383"/>
<polygon points="14.4,-8.0 172.9,-8.0 92.5,80.0" fill="#6c6c6c"/>
<polygon points="66.5,-8.0 126.5,-8.0 98.5,40.0" fill="#b2b2b2" filter="url(#soft6)"/>
<line x1="14.4" y1="-8.0" x2="84.9" y2="71.0" stroke="#a8a8a8" stroke-width="12.0" filter="url(#soft2)"/>
<line x1="14.4" y1="-8.0" x2="83.1" y2="69.0" stroke="#c3c3c3" stroke-width="6.5" filter="url(#soft1)"/>
<line x1="172.9" y1="-8.0" x2="99.5" y2="71.0" stroke="#a8a8a8" stroke-width="12.0" filter="url(#soft2)"/>
<line x1="172.9" y1="-8.0" x2="101.3" y2="69.0" stroke="#c3c3c3" stroke-width="6.5" filter="url(#soft1)"/>
<polygon points="92.5,71.2 81.8,56.0 87.9,49.0 97.1,49.0 103.2,56.0" fill="#454545" filter="url(#soft2)"/>
<polygon points="92.5,70.2 86.4,58.1 88.3,54.2 96.7,54.2 98.6,58.1" fill="#0f0f0f"/>
</g></g>
</g>
<rect x="1.3" y="1.3" width="182.4" height="67.6" fill="none" stroke="#000" stroke-width="2.6"/>
<path d="M90.5 2 L92.5 4.5 L94.5 2 Z" fill="#000"/>
</g>
<g transform="translate(294.5 496.8)">
<g clip-path="url(#hclip)">
<g transform="translate(92.5 35.1) scale(1 1.114) rotate(45)" filter="url(#hn1)">
<g transform="rotate(-45) scale(1 0.8977) translate(-92.5 -35.1)">
<rect x="-8" y="-8" width="201.0" height="86.2" fill="#818181"/>
<line x1="10.4" y1="-8.0" x2="83.6" y2="74.0" stroke="#b2b2b2" stroke-width="20.0" filter="url(#soft3)"/>
<line x1="176.9" y1="-8.0" x2="100.7" y2="74.0" stroke="#b2b2b2" stroke-width="20.0" filter="url(#soft3)"/>
<polygon points="14.4,-8.0 172.9,-8.0 92.5,80.0" fill="url(#ncg)"/>
<ellipse cx="94.5" cy="4" rx="30" ry="13" fill="#6e6e6e" filter="url(#soft6)"/>
<line x1="13.6" y1="-8.0" x2="83.2" y2="70.0" stroke="#cccccc" stroke-width="12.0"/>
<line x1="14.4" y1="-8.0" x2="77.8" y2="63.0" stroke="#ffffff" stroke-width="8.6" stroke-linecap="round"/>
<line x1="14.4" y1="-8.0" x2="76.0" y2="61.0" stroke="#ffffff" stroke-width="7.4" stroke-linecap="round"/>
<line x1="173.7" y1="-8.0" x2="101.2" y2="70.0" stroke="#cccccc" stroke-width="12.0"/>
<line x1="172.9" y1="-8.0" x2="106.9" y2="63.0" stroke="#ffffff" stroke-width="8.6" stroke-linecap="round"/>
<line x1="172.9" y1="-8.0" x2="108.8" y2="61.0" stroke="#ffffff" stroke-width="7.4" stroke-linecap="round"/>
<polygon points="92.5,78.2 71.5,37.0 74.5,31.5 117.5,31.5 120.5,36.0" fill="#1a1a1a" filter="url(#soft1)"/>
</g></g>
<polygon points="91.0,72.2 75.0,38.0 77.0,34.5 82.1,35.2 86.8,32.8 91.4,35.2 96.0,32.8 100.6,35.2 105.2,32.8 109.9,35.2 115.0,34.5 117.0,37.0 94.0,72.2" fill="#000" filter="url(#soft1)"/>
</g>
<rect x="1.3" y="1.3" width="182.4" height="67.6" fill="none" stroke="#000" stroke-width="2.6"/>
<path d="M90.5 2 L92.5 4.5 L94.5 2 Z" fill="#000"/>
</g>
<g transform="translate(488.8 496.8)">
<g clip-path="url(#hclip)">
<g transform="translate(92.5 35.1) scale(1 1.114) rotate(45)" filter="url(#hl1)">
<g transform="rotate(-45) scale(1 0.8977) translate(-92.5 -35.1)">
<rect x="-8" y="-8" width="201.0" height="86.2" fill="#7c7c7c"/>
<polygon points="14.4,-8.0 172.9,-8.0 92.5,80.0" fill="#666666"/>
<polygon points="62.5,-8.0 137.5,-8.0 100.5,62.0" fill="#545454" filter="url(#soft6)"/>
<polygon points="178.9,-8.0 193.0,-8.0 193.0,78.2 118.5,78.2" fill="#999999" filter="url(#soft3)"/>
<polygon points="-8.0,-8.0 14.0,-8.0 -8.0,50.0" fill="#949494" filter="url(#soft3)"/>
<polygon points="-8.0,78.2 60.0,78.2 20.0,40.0 -8.0,30.0" fill="#8a8a8a" filter="url(#soft3)"/>
<line x1="14.4" y1="-8.0" x2="82.2" y2="68.0" stroke="#cccccc" stroke-width="8.0" stroke-dasharray="10 3 6 4 13 3" stroke-dashoffset="7"/>
<line x1="172.9" y1="-8.0" x2="113.4" y2="56.0" stroke="#c2c2c2" stroke-width="7.0" stroke-dasharray="5 7 8 5 4 9 7 6" stroke-dashoffset="5"/>
<line x1="58.1" y1="41.0" x2="78.7" y2="64.0" stroke="#ffffff" stroke-width="6.4" stroke-linecap="round"/>
<ellipse cx="38" cy="32" rx="12" ry="3.5" transform="rotate(48 38 32)" fill="#5c5c5c"/>
<ellipse cx="122" cy="28" rx="7" ry="5" transform="rotate(-45 122 28)" fill="#3d3d3d"/>
<ellipse cx="62" cy="12" rx="7" ry="5" transform="rotate(50 62 12)" fill="#5c5c5c"/>
<ellipse cx="96" cy="44" rx="10" ry="6" transform="rotate(-20 96 44)" fill="#404040"/>
<ellipse cx="97.5" cy="50.2" rx="16.8" ry="12.6" fill="#2b2b2b" transform="rotate(-30 97.5 50.2)"/>
<polygon points="90.5,71.2 86.2,57.7 88.3,50.4 98.8,48.2 106.2,43.0 111.4,47.2 103.0,59.8 95.5,71.2" fill="#000000"/>
</g></g>
<polygon points="91.5,71.2 88.3,57.7 90.4,52.5 98.8,50.4 106.2,45.1 109.3,48.2 102.0,59.8 94.5,71.2" fill="#000" filter="url(#soft1)"/>
</g>
<rect x="1.3" y="1.3" width="182.4" height="67.6" fill="none" stroke="#000" stroke-width="2.6"/>
<path d="M90.5 2 L92.5 4.5 L94.5 2 Z" fill="#000"/>
</g>
<g transform="translate(100.4 577.9)">
<g clip-path="url(#hclip)">
<g transform="translate(92.5 35.1) scale(1 1.114) rotate(45)" filter="url(#hg2)">
<g transform="rotate(-45) scale(1 0.8977) translate(-92.5 -35.1)">
<rect x="-8" y="-8" width="201.0" height="86.2" fill="#838383"/>
<polygon points="14.4,-8.0 172.9,-8.0 92.5,80.0" fill="#6c6c6c"/>
<polygon points="66.5,-8.0 126.5,-8.0 98.5,40.0" fill="#b2b2b2" filter="url(#soft6)"/>
<line x1="14.4" y1="-8.0" x2="84.9" y2="71.0" stroke="#a8a8a8" stroke-width="12.0" filter="url(#soft2)"/>
<line x1="14.4" y1="-8.0" x2="83.1" y2="69.0" stroke="#c3c3c3" stroke-width="6.5" filter="url(#soft1)"/>
<line x1="172.9" y1="-8.0" x2="99.5" y2="71.0" stroke="#a8a8a8" stroke-width="12.0" filter="url(#soft2)"/>
<line x1="172.9" y1="-8.0" x2="101.3" y2="69.0" stroke="#c3c3c3" stroke-width="6.5" filter="url(#soft1)"/>
<line x1="66.2" y1="50.0" x2="76.9" y2="62.0" stroke="#dbdbdb" stroke-width="6.0" stroke-linecap="round" filter="url(#soft1)"/>
<line x1="123.7" y1="45.0" x2="110.6" y2="59.0" stroke="#dbdbdb" stroke-width="6.0" stroke-linecap="round" filter="url(#soft1)"/>
<polygon points="92.5,71.2 81.6,55.6 87.7,48.4 97.3,48.4 103.4,55.6" fill="#454545" filter="url(#soft2)"/>
<polygon points="92.5,70.2 86.2,57.8 88.1,53.8 96.9,53.8 98.8,57.8" fill="#0d0d0d"/>
</g></g>
</g>
<rect x="1.3" y="1.3" width="182.4" height="67.6" fill="none" stroke="#000" stroke-width="2.6"/>
<path d="M90.5 2 L92.5 4.5 L94.5 2 Z" fill="#000"/>
</g>
<g transform="translate(294.5 577.9)">
<g clip-path="url(#hclip)">
<g transform="translate(92.5 35.1) scale(1 1.114) rotate(45)" filter="url(#hn2)">
<g transform="rotate(-45) scale(1 0.8977) translate(-92.5 -35.1)">
<rect x="-8" y="-8" width="201.0" height="86.2" fill="#818181"/>
<line x1="10.4" y1="-8.0" x2="83.6" y2="74.0" stroke="#b2b2b2" stroke-width="20.0" filter="url(#soft3)"/>
<line x1="176.9" y1="-8.0" x2="100.7" y2="74.0" stroke="#b2b2b2" stroke-width="20.0" filter="url(#soft3)"/>
<polygon points="14.4,-8.0 172.9,-8.0 92.5,80.0" fill="url(#ncg)"/>
<ellipse cx="94.5" cy="4" rx="30" ry="13" fill="#6e6e6e" filter="url(#soft6)"/>
<line x1="13.6" y1="-8.0" x2="83.2" y2="70.0" stroke="#cccccc" stroke-width="12.0"/>
<line x1="14.4" y1="-8.0" x2="77.8" y2="63.0" stroke="#f2f2f2" stroke-width="8.6" stroke-linecap="round"/>
<line x1="30.4" y1="10.0" x2="76.0" y2="61.0" stroke="#ffffff" stroke-width="7.4" stroke-linecap="round"/>
<line x1="173.7" y1="-8.0" x2="101.2" y2="70.0" stroke="#cccccc" stroke-width="12.0"/>
<line x1="172.9" y1="-8.0" x2="106.9" y2="63.0" stroke="#f2f2f2" stroke-width="8.6" stroke-linecap="round"/>
<line x1="156.2" y1="10.0" x2="108.8" y2="61.0" stroke="#ffffff" stroke-width="7.4" stroke-linecap="round"/>
<polygon points="92.5,78.2 72.0,36.0 75.0,30.5 117.0,30.5 120.0,35.0" fill="#1a1a1a" filter="url(#soft1)"/>
</g></g>
<polygon points="91.0,72.2 75.5,37.0 77.5,33.5 82.5,34.2 87.0,31.8 91.5,34.2 96.0,31.8 100.5,34.2 105.0,31.8 109.5,34.2 114.5,33.5 116.5,36.0 94.0,72.2" fill="#000" filter="url(#soft1)"/>
</g>
<rect x="1.3" y="1.3" width="182.4" height="67.6" fill="none" stroke="#000" stroke-width="2.6"/>
<path d="M90.5 2 L92.5 4.5 L94.5 2 Z" fill="#000"/>
</g>
<g transform="translate(488.8 577.9)">
<g clip-path="url(#hclip)">
<g transform="translate(92.5 35.1) scale(1 1.114) rotate(45)" filter="url(#hl2)">
<g transform="rotate(-45) scale(1 0.8977) translate(-92.5 -35.1)">
<rect x="-8" y="-8" width="201.0" height="86.2" fill="#7c7c7c"/>
<polygon points="14.4,-8.0 172.9,-8.0 92.5,80.0" fill="#666666"/>
<polygon points="62.5,-8.0 137.5,-8.0 100.5,62.0" fill="#4f4f4f" filter="url(#soft6)"/>
<polygon points="178.9,-8.0 193.0,-8.0 193.0,78.2 118.5,78.2" fill="#999999" filter="url(#soft3)"/>
<polygon points="-8.0,-8.0 14.0,-8.0 -8.0,50.0" fill="#949494" filter="url(#soft3)"/>
<polygon points="-8.0,78.2 60.0,78.2 20.0,40.0 -8.0,30.0" fill="#8a8a8a" filter="url(#soft3)"/>
<line x1="14.4" y1="-8.0" x2="82.2" y2="68.0" stroke="#cccccc" stroke-width="8.0" stroke-dasharray="10 3 6 4 13 3" stroke-dashoffset="14"/>
<line x1="172.9" y1="-8.0" x2="113.4" y2="56.0" stroke="#b8b8b8" stroke-width="7.0" stroke-dasharray="5 7 8 5 4 9 7 6" stroke-dashoffset="10"/>
<line x1="55.4" y1="38.0" x2="78.7" y2="64.0" stroke="#ffffff" stroke-width="6.4" stroke-linecap="round"/>
<ellipse cx="120" cy="26" rx="9" ry="6" transform="rotate(40 120 26)" fill="#383838"/>
<ellipse cx="108" cy="12" rx="14" ry="5" transform="rotate(20 108 12)" fill="#5c5c5c"/>
<ellipse cx="40" cy="42" rx="14" ry="5" transform="rotate(40 40 42)" fill="#6b6b6b"/>
<ellipse cx="92" cy="46" rx="6" ry="5" transform="rotate(0 92 46)" fill="#404040"/>
<ellipse cx="97.5" cy="50.2" rx="16.0" ry="12.0" fill="#2b2b2b" transform="rotate(-30 97.5 50.2)"/>
<polygon points="90.5,71.2 86.5,58.2 88.5,51.2 98.5,49.2 105.5,44.2 110.5,48.2 102.5,60.2 95.5,71.2" fill="#000000"/>
</g></g>
<polygon points="91.5,71.2 88.5,58.2 90.5,53.2 98.5,51.2 105.5,46.2 108.5,49.2 101.5,60.2 94.5,71.2" fill="#000" filter="url(#soft1)"/>
</g>
<rect x="1.3" y="1.3" width="182.4" height="67.6" fill="none" stroke="#000" stroke-width="2.6"/>
<path d="M90.5 2 L92.5 4.5 L94.5 2 Z" fill="#000"/>
</g>
<g transform="translate(100.4 659.1)">
<g clip-path="url(#hclip)">
<g transform="translate(92.5 35.1) scale(1 1.114) rotate(45)" filter="url(#hg3)">
<g transform="rotate(-45) scale(1 0.8977) translate(-92.5 -35.1)">
<rect x="-8" y="-8" width="201.0" height="86.2" fill="#838383"/>
<polygon points="14.4,-8.0 172.9,-8.0 92.5,80.0" fill="#6c6c6c"/>
<polygon points="66.5,-8.0 126.5,-8.0 98.5,40.0" fill="#b2b2b2" filter="url(#soft6)"/>
<line x1="14.4" y1="-8.0" x2="84.9" y2="71.0" stroke="#a8a8a8" stroke-width="12.0" filter="url(#soft2)"/>
<line x1="14.4" y1="-8.0" x2="83.1" y2="69.0" stroke="#c3c3c3" stroke-width="6.5" filter="url(#soft1)"/>
<line x1="172.9" y1="-8.0" x2="99.5" y2="71.0" stroke="#a8a8a8" stroke-width="12.0" filter="url(#soft2)"/>
<line x1="172.9" y1="-8.0" x2="101.3" y2="69.0" stroke="#c3c3c3" stroke-width="6.5" filter="url(#soft1)"/>
<line x1="64.4" y1="48.0" x2="76.9" y2="62.0" stroke="#e6e6e6" stroke-width="6.0" stroke-linecap="round" filter="url(#soft1)"/>
<line x1="125.5" y1="43.0" x2="110.6" y2="59.0" stroke="#e6e6e6" stroke-width="6.0" stroke-linecap="round" filter="url(#soft1)"/>
<polygon points="92.5,71.2 80.0,53.1 86.8,45.0 98.2,45.0 105.0,53.1" fill="#454545" filter="url(#soft2)"/>
<polygon points="92.5,70.2 84.9,55.7 87.3,50.9 97.7,50.9 100.1,55.7" fill="#050505"/>
</g></g>
<polygon points="92.5,70.2 86.6,57.1 88.5,53.7 96.5,53.7 98.4,57.1" fill="#000" filter="url(#soft1)"/>
</g>
<rect x="1.3" y="1.3" width="182.4" height="67.6" fill="none" stroke="#000" stroke-width="2.6"/>
<path d="M90.5 2 L92.5 4.5 L94.5 2 Z" fill="#000"/>
</g>
<g transform="translate(294.5 659.1)">
<g clip-path="url(#hclip)">
<g transform="translate(92.5 35.1) scale(1 1.114) rotate(45)" filter="url(#hn3)">
<g transform="rotate(-45) scale(1 0.8977) translate(-92.5 -35.1)">
<rect x="-8" y="-8" width="201.0" height="86.2" fill="#818181"/>
<line x1="10.4" y1="-8.0" x2="83.6" y2="74.0" stroke="#b2b2b2" stroke-width="20.0" filter="url(#soft3)"/>
<line x1="176.9" y1="-8.0" x2="100.7" y2="74.0" stroke="#b2b2b2" stroke-width="20.0" filter="url(#soft3)"/>
<polygon points="14.4,-8.0 172.9,-8.0 92.5,80.0" fill="url(#ncg)"/>
<ellipse cx="94.5" cy="4" rx="30" ry="13" fill="#6e6e6e" filter="url(#soft6)"/>
<line x1="13.6" y1="-8.0" x2="83.2" y2="70.0" stroke="#cccccc" stroke-width="12.0"/>
<line x1="14.4" y1="-8.0" x2="77.8" y2="63.0" stroke="#f2f2f2" stroke-width="8.6" stroke-linecap="round"/>
<line x1="30.4" y1="10.0" x2="76.0" y2="61.0" stroke="#ffffff" stroke-width="7.4" stroke-linecap="round"/>
<line x1="173.7" y1="-8.0" x2="101.2" y2="70.0" stroke="#cccccc" stroke-width="12.0"/>
<line x1="172.9" y1="-8.0" x2="106.9" y2="63.0" stroke="#f2f2f2" stroke-width="8.6" stroke-linecap="round"/>
<line x1="156.2" y1="10.0" x2="108.8" y2="61.0" stroke="#ffffff" stroke-width="7.4" stroke-linecap="round"/>
<polygon points="92.5,78.2 70.0,34.0 73.0,28.5 119.0,28.5 122.0,33.0" fill="#1a1a1a" filter="url(#soft1)"/>
</g></g>
<polygon points="91.0,72.2 73.5,35.0 75.5,31.5 81.0,32.2 86.0,29.8 91.0,32.2 96.0,29.8 101.0,32.2 106.0,29.8 111.0,32.2 116.5,31.5 118.5,34.0 94.0,72.2" fill="#000" filter="url(#soft1)"/>
</g>
<rect x="1.3" y="1.3" width="182.4" height="67.6" fill="none" stroke="#000" stroke-width="2.6"/>
<path d="M90.5 2 L92.5 4.5 L94.5 2 Z" fill="#000"/>
</g>
<g transform="translate(488.8 659.1)">
<g clip-path="url(#hclip)">
<g transform="translate(92.5 35.1) scale(1 1.114) rotate(45)" filter="url(#hl3)">
<g transform="rotate(-45) scale(1 0.8977) translate(-92.5 -35.1)">
<rect x="-8" y="-8" width="201.0" height="86.2" fill="#7c7c7c"/>
<polygon points="14.4,-8.0 172.9,-8.0 92.5,80.0" fill="#666666"/>
<polygon points="62.5,-8.0 137.5,-8.0 100.5,62.0" fill="#454545" filter="url(#soft6)"/>
<polygon points="178.9,-8.0 193.0,-8.0 193.0,78.2 118.5,78.2" fill="#999999" filter="url(#soft3)"/>
<polygon points="-8.0,-8.0 14.0,-8.0 -8.0,50.0" fill="#949494" filter="url(#soft3)"/>
<polygon points="-8.0,78.2 60.0,78.2 20.0,40.0 -8.0,30.0" fill="#8a8a8a" filter="url(#soft3)"/>
<line x1="14.4" y1="-8.0" x2="82.2" y2="68.0" stroke="#dbdbdb" stroke-width="8.0" stroke-dasharray="10 3 6 4 13 3" stroke-dashoffset="21"/>
<line x1="172.9" y1="-8.0" x2="113.4" y2="56.0" stroke="#b8b8b8" stroke-width="7.0" stroke-dasharray="5 7 8 5 4 9 7 6" stroke-dashoffset="15"/>
<line x1="53.7" y1="36.0" x2="78.7" y2="64.0" stroke="#ffffff" stroke-width="6.4" stroke-linecap="round"/>
<ellipse cx="130" cy="18" rx="12" ry="7" transform="rotate(30 130 18)" fill="#1f1f1f"/>
<ellipse cx="118" cy="36" rx="9" ry="6" transform="rotate(-45 118 36)" fill="#1f1f1f"/>
<ellipse cx="68" cy="22" rx="10" ry="5" transform="rotate(20 68 22)" fill="#4c4c4c"/>
<ellipse cx="100" cy="42" rx="8" ry="6" transform="rotate(0 100 42)" fill="#333333"/>
<ellipse cx="97.5" cy="50.2" rx="13.6" ry="10.2" fill="#2b2b2b" transform="rotate(-30 97.5 50.2)"/>
<polygon points="90.5,71.2 87.4,59.7 89.1,53.8 97.6,52.1 103.5,47.8 107.8,51.2 101.0,61.4 95.5,71.2" fill="#000000"/>
</g></g>
<polygon points="91.5,71.2 89.1,59.7 90.8,55.5 97.6,53.8 103.5,49.5 106.1,52.1 100.2,61.4 94.5,71.2" fill="#000" filter="url(#soft1)"/>
</g>
<rect x="1.3" y="1.3" width="182.4" height="67.6" fill="none" stroke="#000" stroke-width="2.6"/>
<path d="M90.5 2 L92.5 4.5 L94.5 2 Z" fill="#000"/>
</g>
<g transform="translate(100.4 740.2)">
<g clip-path="url(#hclip)">
<g transform="translate(92.5 35.1) scale(1 1.114) rotate(45)" filter="url(#hg4)">
<g transform="rotate(-45) scale(1 0.8977) translate(-92.5 -35.1)">
<rect x="-8" y="-8" width="201.0" height="86.2" fill="#838383"/>
<polygon points="14.4,-8.0 172.9,-8.0 92.5,80.0" fill="#6c6c6c"/>
<polygon points="66.5,-8.0 126.5,-8.0 98.5,40.0" fill="#b2b2b2" filter="url(#soft6)"/>
<line x1="14.4" y1="-8.0" x2="84.9" y2="71.0" stroke="#a8a8a8" stroke-width="12.0" filter="url(#soft2)"/>
<line x1="14.4" y1="-8.0" x2="83.1" y2="69.0" stroke="#c3c3c3" stroke-width="6.5" filter="url(#soft1)"/>
<line x1="172.9" y1="-8.0" x2="99.5" y2="71.0" stroke="#a8a8a8" stroke-width="12.0" filter="url(#soft2)"/>
<line x1="172.9" y1="-8.0" x2="101.3" y2="69.0" stroke="#c3c3c3" stroke-width="6.5" filter="url(#soft1)"/>
<line x1="55.4" y1="38.0" x2="76.9" y2="62.0" stroke="#ffffff" stroke-width="6.0" stroke-linecap="round" filter="url(#soft1)"/>
<line x1="134.8" y1="33.0" x2="110.6" y2="59.0" stroke="#ffffff" stroke-width="6.0" stroke-linecap="round" filter="url(#soft1)"/>
<polygon points="92.5,71.2 77.0,48.2 85.0,38.6 100.0,38.6 108.0,48.2" fill="#454545" filter="url(#soft2)"/>
<polygon points="92.5,70.2 82.5,51.7 85.6,45.3 99.4,45.3 102.5,51.7" fill="#000000"/>
</g></g>
<polygon points="92.5,70.2 84.7,53.6 87.2,49.0 97.8,49.0 100.3,53.6" fill="#000" filter="url(#soft1)"/>
</g>
<rect x="1.3" y="1.3" width="182.4" height="67.6" fill="none" stroke="#000" stroke-width="2.6"/>
<path d="M90.5 2 L92.5 4.5 L94.5 2 Z" fill="#000"/>
</g>
<g transform="translate(294.5 740.2)">
<g clip-path="url(#hclip)">
<g transform="translate(92.5 35.1) scale(1 1.114) rotate(45)" filter="url(#hn4)">
<g transform="rotate(-45) scale(1 0.8977) translate(-92.5 -35.1)">
<rect x="-8" y="-8" width="201.0" height="86.2" fill="#818181"/>
<line x1="10.4" y1="-8.0" x2="83.6" y2="74.0" stroke="#b2b2b2" stroke-width="20.0" filter="url(#soft3)"/>
<line x1="176.9" y1="-8.0" x2="100.7" y2="74.0" stroke="#b2b2b2" stroke-width="20.0" filter="url(#soft3)"/>
<polygon points="14.4,-8.0 172.9,-8.0 92.5,80.0" fill="url(#ncg)"/>
<ellipse cx="94.5" cy="4" rx="30" ry="13" fill="#6e6e6e" filter="url(#soft6)"/>
<line x1="13.6" y1="-8.0" x2="83.2" y2="70.0" stroke="#cccccc" stroke-width="12.0"/>
<line x1="14.4" y1="-8.0" x2="77.8" y2="63.0" stroke="#ebebeb" stroke-width="8.6" stroke-linecap="round"/>
<line x1="35.8" y1="16.0" x2="76.0" y2="61.0" stroke="#ffffff" stroke-width="7.4" stroke-linecap="round"/>
<line x1="173.7" y1="-8.0" x2="101.2" y2="70.0" stroke="#cccccc" stroke-width="12.0"/>
<line x1="172.9" y1="-8.0" x2="106.9" y2="63.0" stroke="#ebebeb" stroke-width="8.6" stroke-linecap="round"/>
<line x1="150.6" y1="16.0" x2="108.8" y2="61.0" stroke="#ffffff" stroke-width="7.4" stroke-linecap="round"/>
<polygon points="92.5,78.2 71.0,36.0 74.0,30.5 118.0,30.5 121.0,35.0" fill="#1a1a1a" filter="url(#soft1)"/>
</g></g>
<polygon points="91.0,72.2 74.5,37.0 76.5,33.5 81.8,34.2 86.5,31.8 91.2,34.2 96.0,31.8 100.8,34.2 105.5,31.8 110.2,34.2 115.5,33.5 117.5,36.0 94.0,72.2" fill="#000" filter="url(#soft1)"/>
</g>
<rect x="1.3" y="1.3" width="182.4" height="67.6" fill="none" stroke="#000" stroke-width="2.6"/>
<path d="M90.5 2 L92.5 4.5 L94.5 2 Z" fill="#000"/>
</g>
<g transform="translate(488.8 740.2)">
<g clip-path="url(#hclip)">
<g transform="translate(92.5 35.1) scale(1 1.114) rotate(45)" filter="url(#hl4)">
<g transform="rotate(-45) scale(1 0.8977) translate(-92.5 -35.1)">
<rect x="-8" y="-8" width="201.0" height="86.2" fill="#7c7c7c"/>
<polygon points="14.4,-8.0 172.9,-8.0 92.5,80.0" fill="#666666"/>
<polygon points="62.5,-8.0 137.5,-8.0 100.5,62.0" fill="#545454" filter="url(#soft6)"/>
<polygon points="178.9,-8.0 193.0,-8.0 193.0,78.2 118.5,78.2" fill="#999999" filter="url(#soft3)"/>
<polygon points="-8.0,-8.0 14.0,-8.0 -8.0,50.0" fill="#949494" filter="url(#soft3)"/>
<polygon points="-8.0,78.2 60.0,78.2 20.0,40.0 -8.0,30.0" fill="#8a8a8a" filter="url(#soft3)"/>
<line x1="14.4" y1="-8.0" x2="82.2" y2="68.0" stroke="#b2b2b2" stroke-width="8.0" stroke-dasharray="10 3 6 4 13 3" stroke-dashoffset="28"/>
<line x1="172.9" y1="-8.0" x2="113.4" y2="56.0" stroke="#b2b2b2" stroke-width="7.0" stroke-dasharray="5 7 8 5 4 9 7 6" stroke-dashoffset="20"/>
<line x1="67.9" y1="52.0" x2="78.7" y2="64.0" stroke="#e6e6e6" stroke-width="6.4" stroke-linecap="round"/>
<ellipse cx="108" cy="16" rx="9" ry="7" transform="rotate(40 108 16)" fill="#333333"/>
<ellipse cx="122" cy="32" rx="8" ry="7" transform="rotate(0 122 32)" fill="#1a1a1a"/>
<ellipse cx="112" cy="47" rx="9" ry="4" transform="rotate(-40 112 47)" fill="#242424"/>
<ellipse cx="66" cy="24" rx="6" ry="4" transform="rotate(0 66 24)" fill="#5c5c5c"/>
<ellipse cx="97.5" cy="50.2" rx="12.0" ry="9.0" fill="#2b2b2b" transform="rotate(-30 97.5 50.2)"/>
<polygon points="90.5,71.2 89.5,63.2 90.5,59.7 95.5,58.7 99.0,56.2 101.5,58.2 97.5,64.2 95.5,71.2" fill="#000000"/>
</g></g>
</g>
<rect x="1.3" y="1.3" width="182.4" height="67.6" fill="none" stroke="#000" stroke-width="2.6"/>
<path d="M90.5 2 L92.5 4.5 L94.5 2 Z" fill="#000"/>
</g>
<g transform="translate(100.4 821.4)">
<g clip-path="url(#hclip)">
<g transform="translate(92.5 35.1) scale(1 1.114) rotate(45)" filter="url(#hg5)">
<g transform="rotate(-45) scale(1 0.8977) translate(-92.5 -35.1)">
<rect x="-8" y="-8" width="201.0" height="86.2" fill="#838383"/>
<polygon points="14.4,-8.0 172.9,-8.0 92.5,80.0" fill="#6c6c6c"/>
<polygon points="66.5,-8.0 126.5,-8.0 98.5,40.0" fill="#b2b2b2" filter="url(#soft6)"/>
<line x1="14.4" y1="-8.0" x2="84.9" y2="71.0" stroke="#a8a8a8" stroke-width="12.0" filter="url(#soft2)"/>
<line x1="14.4" y1="-8.0" x2="83.1" y2="69.0" stroke="#c3c3c3" stroke-width="6.5" filter="url(#soft1)"/>
<line x1="172.9" y1="-8.0" x2="99.5" y2="71.0" stroke="#a8a8a8" stroke-width="12.0" filter="url(#soft2)"/>
<line x1="172.9" y1="-8.0" x2="101.3" y2="69.0" stroke="#c3c3c3" stroke-width="6.5" filter="url(#soft1)"/>
<line x1="60.8" y1="44.0" x2="76.9" y2="62.0" stroke="#f7f7f7" stroke-width="6.0" stroke-linecap="round" filter="url(#soft1)"/>
<line x1="129.2" y1="39.0" x2="110.6" y2="59.0" stroke="#f7f7f7" stroke-width="6.0" stroke-linecap="round" filter="url(#soft1)"/>
<polygon points="92.5,71.2 78.3,50.4 85.8,41.4 99.2,41.4 106.7,50.4" fill="#454545" filter="url(#soft2)"/>
<polygon points="92.5,70.2 83.5,53.4 86.3,47.7 98.7,47.7 101.5,53.4" fill="#000000"/>
</g></g>
<polygon points="92.5,70.2 85.5,55.1 87.8,51.1 97.2,51.1 99.5,55.1" fill="#000" filter="url(#soft1)"/>
</g>
<rect x="1.3" y="1.3" width="182.4" height="67.6" fill="none" stroke="#000" stroke-width="2.6"/>
<path d="M90.5 2 L92.5 4.5 L94.5 2 Z" fill="#000"/>
</g>
<g transform="translate(294.5 821.4)">
<g clip-path="url(#hclip)">
<g transform="translate(92.5 35.1) scale(1 1.114) rotate(45)" filter="url(#hn5)">
<g transform="rotate(-45) scale(1 0.8977) translate(-92.5 -35.1)">
<rect x="-8" y="-8" width="201.0" height="86.2" fill="#818181"/>
<line x1="10.4" y1="-8.0" x2="83.6" y2="74.0" stroke="#b2b2b2" stroke-width="20.0" filter="url(#soft3)"/>
<line x1="176.9" y1="-8.0" x2="100.7" y2="74.0" stroke="#b2b2b2" stroke-width="20.0" filter="url(#soft3)"/>
<polygon points="14.4,-8.0 172.9,-8.0 92.5,80.0" fill="url(#ncg)"/>
<ellipse cx="94.5" cy="4" rx="30" ry="13" fill="#6e6e6e" filter="url(#soft6)"/>
<line x1="13.6" y1="-8.0" x2="83.2" y2="70.0" stroke="#cccccc" stroke-width="12.0"/>
<line x1="14.4" y1="-8.0" x2="77.8" y2="63.0" stroke="#e0e0e0" stroke-width="8.6" stroke-linecap="round"/>
<line x1="42.9" y1="24.0" x2="76.0" y2="61.0" stroke="#ffffff" stroke-width="7.4" stroke-linecap="round"/>
<line x1="173.7" y1="-8.0" x2="101.2" y2="70.0" stroke="#cccccc" stroke-width="12.0"/>
<line x1="172.9" y1="-8.0" x2="106.9" y2="63.0" stroke="#e0e0e0" stroke-width="8.6" stroke-linecap="round"/>
<line x1="143.2" y1="24.0" x2="108.8" y2="61.0" stroke="#ffffff" stroke-width="7.4" stroke-linecap="round"/>
<polygon points="92.5,78.2 74.0,39.0 77.0,33.5 115.0,33.5 118.0,38.0" fill="#1a1a1a" filter="url(#soft1)"/>
</g></g>
<polygon points="91.0,72.2 77.5,40.0 79.5,36.5 84.0,37.2 88.0,34.8 92.0,37.2 96.0,34.8 100.0,37.2 104.0,34.8 108.0,37.2 112.5,36.5 114.5,39.0 94.0,72.2" fill="#000" filter="url(#soft1)"/>
</g>
<rect x="1.3" y="1.3" width="182.4" height="67.6" fill="none" stroke="#000" stroke-width="2.6"/>
<path d="M90.5 2 L92.5 4.5 L94.5 2 Z" fill="#000"/>
</g>
<g transform="translate(488.8 821.4)">
<g clip-path="url(#hclip)">
<g transform="translate(92.5 35.1) scale(1 1.114) rotate(45)" filter="url(#hl5)">
<g transform="rotate(-45) scale(1 0.8977) translate(-92.5 -35.1)">
<rect x="-8" y="-8" width="201.0" height="86.2" fill="#7c7c7c"/>
<polygon points="14.4,-8.0 172.9,-8.0 92.5,80.0" fill="#666666"/>
<polygon points="62.5,-8.0 137.5,-8.0 100.5,62.0" fill="#595959" filter="url(#soft6)"/>
<polygon points="178.9,-8.0 193.0,-8.0 193.0,78.2 118.5,78.2" fill="#999999" filter="url(#soft3)"/>
<polygon points="-8.0,-8.0 14.0,-8.0 -8.0,50.0" fill="#949494" filter="url(#soft3)"/>
<polygon points="-8.0,78.2 60.0,78.2 20.0,40.0 -8.0,30.0" fill="#8a8a8a" filter="url(#soft3)"/>
<line x1="14.4" y1="-8.0" x2="82.2" y2="68.0" stroke="#a8a8a8" stroke-width="8.0" stroke-dasharray="10 3 6 4 13 3" stroke-dashoffset="35"/>
<line x1="172.9" y1="-8.0" x2="113.4" y2="56.0" stroke="#adadad" stroke-width="7.0" stroke-dasharray="5 7 8 5 4 9 7 6" stroke-dashoffset="25"/>
<line x1="71.5" y1="56.0" x2="78.7" y2="64.0" stroke="#e6e6e6" stroke-width="6.4" stroke-linecap="round"/>
<ellipse cx="112" cy="14" rx="8" ry="5" transform="rotate(20 112 14)" fill="#4c4c4c"/>
<ellipse cx="120" cy="30" rx="6" ry="9" transform="rotate(10 120 30)" fill="#333333"/>
<ellipse cx="108" cy="50" rx="9" ry="4" transform="rotate(-40 108 50)" fill="#383838"/>
<ellipse cx="60" cy="20" rx="10" ry="4" transform="rotate(40 60 20)" fill="#666666"/>
<ellipse cx="97.5" cy="50.2" rx="12.0" ry="9.0" fill="#2b2b2b" transform="rotate(-30 97.5 50.2)"/>
<polygon points="90.5,71.2 89.2,62.7 90.3,58.9 95.8,57.8 99.7,55.0 102.4,57.2 98.0,63.8 95.5,71.2" fill="#000000"/>
</g></g>
</g>
<rect x="1.3" y="1.3" width="182.4" height="67.6" fill="none" stroke="#000" stroke-width="2.6"/>
<path d="M90.5 2 L92.5 4.5 L94.5 2 Z" fill="#000"/>
</g>
<g transform="translate(100.4 902.5)">
<g clip-path="url(#hclip)">
<g transform="translate(92.5 35.1) scale(1 1.114) rotate(45)" filter="url(#hg6)">
<g transform="rotate(-45) scale(1 0.8977) translate(-92.5 -35.1)">
<rect x="-8" y="-8" width="201.0" height="86.2" fill="#838383"/>
<polygon points="14.4,-8.0 172.9,-8.0 92.5,80.0" fill="#6c6c6c"/>
<polygon points="66.5,-8.0 126.5,-8.0 98.5,40.0" fill="#b2b2b2" filter="url(#soft6)"/>
<line x1="14.4" y1="-8.0" x2="84.9" y2="71.0" stroke="#a8a8a8" stroke-width="12.0" filter="url(#soft2)"/>
<line x1="14.4" y1="-8.0" x2="83.1" y2="69.0" stroke="#c3c3c3" stroke-width="6.5" filter="url(#soft1)"/>
<line x1="172.9" y1="-8.0" x2="99.5" y2="71.0" stroke="#a8a8a8" stroke-width="12.0" filter="url(#soft2)"/>
<line x1="172.9" y1="-8.0" x2="101.3" y2="69.0" stroke="#c3c3c3" stroke-width="6.5" filter="url(#soft1)"/>
<line x1="53.7" y1="36.0" x2="76.9" y2="62.0" stroke="#ffffff" stroke-width="6.0" stroke-linecap="round" filter="url(#soft1)"/>
<line x1="136.7" y1="31.0" x2="110.6" y2="59.0" stroke="#ffffff" stroke-width="6.0" stroke-linecap="round" filter="url(#soft1)"/>
<polygon points="92.5,71.2 75.6,46.2 84.2,35.8 100.8,35.8 109.4,46.2" fill="#454545" filter="url(#soft2)"/>
<polygon points="92.5,70.2 81.4,50.0 84.9,42.9 100.1,42.9 103.6,50.0" fill="#000000"/>
</g></g>
<polygon points="92.5,70.2 83.9,52.0 86.7,47.0 98.3,47.0 101.1,52.0" fill="#000" filter="url(#soft1)"/>
</g>
<rect x="1.3" y="1.3" width="182.4" height="67.6" fill="none" stroke="#000" stroke-width="2.6"/>
<path d="M90.5 2 L92.5 4.5 L94.5 2 Z" fill="#000"/>
</g>
<g transform="translate(294.5 902.5)">
<g clip-path="url(#hclip)">
<g transform="translate(92.5 35.1) scale(1 1.114) rotate(45)" filter="url(#hn6)">
<g transform="rotate(-45) scale(1 0.8977) translate(-92.5 -35.1)">
<rect x="-8" y="-8" width="201.0" height="86.2" fill="#818181"/>
<line x1="10.4" y1="-8.0" x2="83.6" y2="74.0" stroke="#b2b2b2" stroke-width="20.0" filter="url(#soft3)"/>
<line x1="176.9" y1="-8.0" x2="100.7" y2="74.0" stroke="#b2b2b2" stroke-width="20.0" filter="url(#soft3)"/>
<polygon points="14.4,-8.0 172.9,-8.0 92.5,80.0" fill="url(#ncg)"/>
<ellipse cx="94.5" cy="4" rx="30" ry="13" fill="#6e6e6e" filter="url(#soft6)"/>
<line x1="13.6" y1="-8.0" x2="83.2" y2="70.0" stroke="#cccccc" stroke-width="12.0"/>
<line x1="14.4" y1="-8.0" x2="77.8" y2="63.0" stroke="#e0e0e0" stroke-width="8.6" stroke-linecap="round"/>
<line x1="42.9" y1="24.0" x2="76.0" y2="61.0" stroke="#ffffff" stroke-width="7.4" stroke-linecap="round"/>
<line x1="173.7" y1="-8.0" x2="101.2" y2="70.0" stroke="#cccccc" stroke-width="12.0"/>
<line x1="172.9" y1="-8.0" x2="106.9" y2="63.0" stroke="#e0e0e0" stroke-width="8.6" stroke-linecap="round"/>
<line x1="143.2" y1="24.0" x2="108.8" y2="61.0" stroke="#ffffff" stroke-width="7.4" stroke-linecap="round"/>
<polygon points="92.5,78.2 72.0,38.0 75.0,32.5 117.0,32.5 120.0,37.0" fill="#1a1a1a" filter="url(#soft1)"/>
</g></g>
<polygon points="91.0,72.2 75.5,39.0 77.5,35.5 82.5,36.2 87.0,33.8 91.5,36.2 96.0,33.8 100.5,36.2 105.0,33.8 109.5,36.2 114.5,35.5 116.5,38.0 94.0,72.2" fill="#000" filter="url(#soft1)"/>
</g>
<rect x="1.3" y="1.3" width="182.4" height="67.6" fill="none" stroke="#000" stroke-width="2.6"/>
<path d="M90.5 2 L92.5 4.5 L94.5 2 Z" fill="#000"/>
</g>
<g transform="translate(488.8 902.5)">
<g clip-path="url(#hclip)">
<g transform="translate(92.5 35.1) scale(1 1.114) rotate(45)" filter="url(#hl6)">
<g transform="rotate(-45) scale(1 0.8977) translate(-92.5 -35.1)">
<rect x="-8" y="-8" width="201.0" height="86.2" fill="#7c7c7c"/>
<polygon points="14.4,-8.0 172.9,-8.0 92.5,80.0" fill="#666666"/>
<polygon points="62.5,-8.0 137.5,-8.0 100.5,62.0" fill="#595959" filter="url(#soft6)"/>
<polygon points="178.9,-8.0 193.0,-8.0 193.0,78.2 118.5,78.2" fill="#999999" filter="url(#soft3)"/>
<polygon points="-8.0,-8.0 14.0,-8.0 -8.0,50.0" fill="#949494" filter="url(#soft3)"/>
<polygon points="-8.0,78.2 60.0,78.2 20.0,40.0 -8.0,30.0" fill="#8a8a8a" filter="url(#soft3)"/>
<line x1="14.4" y1="-8.0" x2="82.2" y2="68.0" stroke="#a3a3a3" stroke-width="8.0" stroke-dasharray="10 3 6 4 13 3" stroke-dashoffset="42"/>
<line x1="172.9" y1="-8.0" x2="113.4" y2="56.0" stroke="#adadad" stroke-width="7.0" stroke-dasharray="5 7 8 5 4 9 7 6" stroke-dashoffset="30"/>
<line x1="73.3" y1="58.0" x2="78.7" y2="64.0" stroke="#ebebeb" stroke-width="6.4" stroke-linecap="round"/>
<ellipse cx="124" cy="27" rx="7" ry="5" transform="rotate(-40 124 27)" fill="#0a0a0a"/>
<ellipse cx="108" cy="44" rx="14" ry="3.5" transform="rotate(-42 108 44)" fill="#2e2e2e"/>
<ellipse cx="100" cy="12" rx="14" ry="5" transform="rotate(0 100 12)" fill="#616161"/>
<ellipse cx="112" cy="14" rx="8" ry="4" transform="rotate(40 112 14)" fill="#4c4c4c"/>
<ellipse cx="97.5" cy="50.2" rx="12.0" ry="9.0" fill="#2b2b2b" transform="rotate(-30 97.5 50.2)"/>
<polygon points="90.5,71.2 89.2,62.7 90.3,58.9 95.8,57.8 99.7,55.0 102.4,57.2 98.0,63.8 95.5,71.2" fill="#000000"/>
</g></g>
</g>
<rect x="1.3" y="1.3" width="182.4" height="67.6" fill="none" stroke="#000" stroke-width="2.6"/>
<path d="M90.5 2 L92.5 4.5 L94.5 2 Z" fill="#000"/>
</g>
</g>
<text x="78.1" y="460.2" font-size="27.5" fill="#2e2e2e" textLength="14.7" lengthAdjust="spacingAndGlyphs">B</text>
<text x="62.7" y="541.4" font-size="27.5" fill="#2e2e2e" textLength="30.1" lengthAdjust="spacingAndGlyphs">Bα</text>
<text x="60.4" y="622.5" font-size="27.5" fill="#2e2e2e" textLength="32.4" lengthAdjust="spacingAndGlyphs">D2</text>
<text x="60.0" y="703.7" font-size="27.5" fill="#2e2e2e" textLength="32.8" lengthAdjust="spacingAndGlyphs">D4</text>
<text x="60.4" y="784.8" font-size="27.5" fill="#2e2e2e" textLength="32.4" lengthAdjust="spacingAndGlyphs">D6</text>
<text x="60.2" y="866.0" font-size="27.5" fill="#2e2e2e" textLength="32.6" lengthAdjust="spacingAndGlyphs">D8</text>
<text x="47.8" y="947.1" font-size="27.5" fill="#2e2e2e" textLength="45.0" lengthAdjust="spacingAndGlyphs">PSC</text>
<line x1="112.0" y1="985.8" x2="188.1" y2="985.8" stroke="#2e2e2e" stroke-width="2.8"/>
<path d="M102 985.8 L118.5 981.8 L118.5 989.8 Z" fill="#2e2e2e"/>
<line x1="197.6" y1="985.8" x2="273.0" y2="985.8" stroke="#2e2e2e" stroke-width="2.8"/>
<path d="M283 985.8 L266.5 981.8 L266.5 989.8 Z" fill="#2e2e2e"/>
<text x="115.3" y="1005.3" font-size="18.5" fill="#2e2e2e" textLength="63.1" lengthAdjust="spacingAndGlyphs">1.25 Mb</text>
<text x="206.2" y="1005.3" font-size="18.5" fill="#2e2e2e" textLength="64.0" lengthAdjust="spacingAndGlyphs">1.25 Mb</text>
<path d="M387.3 976.4 L395.8 996.7 L378.8 996.7 Z" fill="#231f20"/>
<text x="323.0" y="1019.4" font-size="26" fill="#2e2e2e" textLength="130.0" lengthAdjust="spacingAndGlyphs">meta-border</text>
<text x="509.1" y="999.6" font-size="19.2" fill="#2e2e2e" textLength="140.6" lengthAdjust="spacingAndGlyphs">log10 (Obs/Exp)</text>
<defs><linearGradient id="cbar" x1="0" y1="0" x2="1" y2="0">
<stop offset="0.000" stop-color="#1e1c78"/>
<stop offset="0.056" stop-color="#2d2f8f"/>
<stop offset="0.111" stop-color="#2e4a9a"/>
<stop offset="0.167" stop-color="#2b679f"/>
<stop offset="0.222" stop-color="#2a7f98"/>
<stop offset="0.278" stop-color="#2e9187"/>
<stop offset="0.333" stop-color="#3a9c70"/>
<stop offset="0.389" stop-color="#45a35a"/>
<stop offset="0.444" stop-color="#55aa4e"/>
<stop offset="0.500" stop-color="#6eb24c"/>
<stop offset="0.556" stop-color="#8aba4e"/>
<stop offset="0.611" stop-color="#a5c055"/>
<stop offset="0.667" stop-color="#bcc25e"/>
<stop offset="0.722" stop-color="#cdbb68"/>
<stop offset="0.778" stop-color="#d9b47a"/>
<stop offset="0.833" stop-color="#e3bc93"/>
<stop offset="0.889" stop-color="#ecccb3"/>
<stop offset="0.944" stop-color="#f5e3d8"/>
<stop offset="1.000" stop-color="#ffffff"/>
</linearGradient></defs>
<rect x="503.9" y="1007.6" width="153.6" height="23.6" fill="url(#cbar)" stroke="#000" stroke-width="2.6"/>
<text x="487.5" y="1050.3" font-size="17.8" fill="#2e2e2e" textLength="29.7" lengthAdjust="spacingAndGlyphs">-0.1</text>
<text x="575.9" y="1050.3" font-size="17.8" fill="#2e2e2e">0</text>
<text x="639.2" y="1050.3" font-size="17.8" fill="#2e2e2e" textLength="34.1" lengthAdjust="spacingAndGlyphs">+0.1</text>
</g>
<g id="panel-d">
<text x="760.0" y="484.2" font-size="46" font-weight="bold" fill="#231f20" textLength="28.0" lengthAdjust="spacingAndGlyphs">d</text>
<path d="M819 489.3 L819 797.5 L1149.8 797.5" fill="none" stroke="#1a1a1a" stroke-width="2.8"/>
<text font-size="21.5" fill="#4a4a4a" textLength="97.2" lengthAdjust="spacingAndGlyphs" transform="translate(808.5 688.3) rotate(-90)">PC2 (29%)</text>
<text x="942.7" y="820.8" font-size="21.5" fill="#4a4a4a" textLength="98.8" lengthAdjust="spacingAndGlyphs">PC1 (48%)</text>
<text x="1063.8" y="516.2" font-size="22.5" font-weight="bold" fill="#be1e3c" textLength="74.4" lengthAdjust="spacingAndGlyphs">I-score</text>
<path d="M851.6 750.3 C864 718 886 700 895.5 668.5" fill="none" stroke="#c4203e" stroke-width="3.3" stroke-linecap="round"/>
<path d="M901.0 631.8 C902.2 612 902.4 596 903.2 577.1" fill="none" stroke="#c4203e" stroke-width="3.3" stroke-linecap="round"/>
<path d="M919.0 537.6 C922 520 944 511.5 965 510.4" fill="none" stroke="#c4203e" stroke-width="3.3" stroke-linecap="round"/>
<path d="M984.3 527.9 C1000 537 1008 545 1011.5 559 C1016.5 577 1015 595 1024 613.5" fill="none" stroke="#c4203e" stroke-width="3.3" stroke-linecap="round"/>
<path d="M1056.6 682.2 C1061 694 1072 702 1088 706.5" fill="none" stroke="#c4203e" stroke-width="3.3" stroke-linecap="round"/>
<path d="M1102.5 710.8 L1083.5 700.2 L1081.5 710.3 Z" fill="#c4203e"/>
<ellipse cx="983.4" cy="506.5" rx="6.0" ry="5.6" fill="#b9b95f" stroke="#1a1a1a" stroke-width="1.9"/>
<ellipse cx="963.2" cy="535.5" rx="6.0" ry="5.6" fill="#b9b95f" stroke="#1a1a1a" stroke-width="1.9"/>
<ellipse cx="917.6" cy="548.3" rx="6.0" ry="5.6" fill="#f5e21c" stroke="#1a1a1a" stroke-width="1.9"/>
<ellipse cx="904.1" cy="566.7" rx="6.0" ry="5.6" fill="#f5e21c" stroke="#1a1a1a" stroke-width="1.9"/>
<ellipse cx="900.4" cy="645.5" rx="6.0" ry="5.6" fill="#f58220" stroke="#1a1a1a" stroke-width="1.9"/>
<ellipse cx="900.4" cy="656.2" rx="6.0" ry="5.6" fill="#f58220" stroke="#1a1a1a" stroke-width="1.9"/>
<ellipse cx="1042.2" cy="613.2" rx="6.0" ry="5.6" fill="#9bb050" stroke="#1a1a1a" stroke-width="1.9"/>
<ellipse cx="1027.8" cy="633.6" rx="6.0" ry="5.6" fill="#9bb050" stroke="#1a1a1a" stroke-width="1.9"/>
<ellipse cx="1055.0" cy="651.3" rx="6.0" ry="5.6" fill="#6aa84f" stroke="#1a1a1a" stroke-width="1.9"/>
<ellipse cx="1036.6" cy="684.3" rx="6.0" ry="5.6" fill="#6aa84f" stroke="#1a1a1a" stroke-width="1.9"/>
<ellipse cx="1127.0" cy="725.0" rx="6.0" ry="5.6" fill="#1f9e58" stroke="#1a1a1a" stroke-width="1.9"/>
<ellipse cx="1133.5" cy="719.6" rx="6.0" ry="5.6" fill="#1f9e58" stroke="#1a1a1a" stroke-width="1.9"/>
<ellipse cx="846.7" cy="763.8" rx="6.0" ry="5.6" fill="#1ca3e3" stroke="#1a1a1a" stroke-width="1.9"/>
<ellipse cx="834.1" cy="785.7" rx="6.0" ry="5.6" fill="#1ca3e3" stroke="#1a1a1a" stroke-width="1.9"/>
<text x="875.1" y="542.7" font-size="22.5" fill="#4a4a4a" textLength="26.9" lengthAdjust="spacingAndGlyphs">D2</text>
<text x="949.5" y="570.2" font-size="22.5" fill="#4a4a4a" textLength="28.5" lengthAdjust="spacingAndGlyphs">D4</text>
<text x="986.0" y="632.0" font-size="22.5" fill="#4a4a4a" textLength="27.5" lengthAdjust="spacingAndGlyphs">D6</text>
<text x="859.8" y="656.9" font-size="22.5" fill="#4a4a4a" textLength="25.9" lengthAdjust="spacingAndGlyphs">Bα</text>
<text x="1064.3" y="678.7" font-size="22.5" fill="#4a4a4a" textLength="28.3" lengthAdjust="spacingAndGlyphs">D8</text>
<text x="1105.2" y="756.8" font-size="22.5" fill="#4a4a4a" textLength="40.1" lengthAdjust="spacingAndGlyphs">PSC</text>
<text x="861.6" y="774.7" font-size="22.5" fill="#4a4a4a" textLength="12.5" lengthAdjust="spacingAndGlyphs">B</text>
<text x="1200.0" y="484.2" font-size="16.5" fill="#2e2e2e" textLength="70.2" lengthAdjust="spacingAndGlyphs">Distance</text>
<text x="1180.0" y="510.4" font-size="20.5" fill="#2e2e2e" textLength="22.8" lengthAdjust="spacingAndGlyphs">70</text>
<text x="1266.7" y="510.4" font-size="20.5" fill="#2e2e2e" textLength="21.4" lengthAdjust="spacingAndGlyphs">10</text>
<line x1="1175.6" y1="523.7" x2="1292.3" y2="523.7" stroke="#1a1a1a" stroke-width="3.3"/>
<line x1="1189.5" y1="515.5" x2="1189.5" y2="523.7" stroke="#1a1a1a" stroke-width="2.6"/>
<line x1="1276.7" y1="515.5" x2="1276.7" y2="523.7" stroke="#1a1a1a" stroke-width="2.6"/>
<path d="M1291.6 541.2 H1280.6 V560.6 H1291.6 M1291.6 580.5 H1280.6 V599.9 H1291.6 M1289.3 619.3 H1278.3 V638.7 H1289.3 M1289.3 658.6 H1278.3 V678.0 H1289.3 M1291.6 697.6 H1280.6 V717.0 H1291.6 M1291.6 737.1 H1280.6 V756.5 H1291.6 M1291.6 776.2 H1280.6 V795.6 H1291.6 M1280.6 550.9 H1260.2 V590.2 H1280.6 M1278.3 629.0 H1257.8 V668.3 H1278.3 M1260.2 570.6 H1229.0 V648.7 H1257.8 M1280.6 707.3 H1263.2 V746.8 H1280.6 M1263.2 727.5 H1237.2 V785.9 H1280.6 M1229.0 610.2 H1187.7 V756.1 H1237.2" fill="none" stroke="#34359a" stroke-width="2.4" stroke-linejoin="miter"/>
<text x="1293.4" y="558.2" font-size="21.5" fill="#4a4a4a" textLength="12.1" lengthAdjust="spacingAndGlyphs">B</text>
<text x="1293.4" y="597.5" font-size="21.5" fill="#4a4a4a" textLength="24.4" lengthAdjust="spacingAndGlyphs">Bα</text>
<text x="1293.4" y="636.3" font-size="21.5" fill="#4a4a4a" textLength="26.3" lengthAdjust="spacingAndGlyphs">D2</text>
<text x="1293.4" y="675.6" font-size="21.5" fill="#4a4a4a" textLength="26.8" lengthAdjust="spacingAndGlyphs">D4</text>
<text x="1293.4" y="714.6" font-size="21.5" fill="#4a4a4a" textLength="26.5" lengthAdjust="spacingAndGlyphs">D6</text>
<text x="1293.4" y="754.1" font-size="21.5" fill="#4a4a4a" textLength="26.8" lengthAdjust="spacingAndGlyphs">D8</text>
<text x="1295.3" y="793.2" font-size="21.5" fill="#4a4a4a" textLength="36.5" lengthAdjust="spacingAndGlyphs">PSC</text>
</g>
<g id="panel-e">
<text x="1376.6" y="484.4" font-size="45" font-weight="bold" fill="#231f20" textLength="25.0" lengthAdjust="spacingAndGlyphs">e</text>
<text x="1429.2" y="561.5" font-size="21" font-weight="bold" fill="#2e2e2e" textLength="42.7" lengthAdjust="spacingAndGlyphs">avg:</text>
<text x="1500.8" y="562.6" font-size="21" fill="#2e2e2e" textLength="12.2" lengthAdjust="spacingAndGlyphs">0</text>
<text x="2010.6" y="563.4" font-size="21" fill="#2e2e2e" textLength="35.8" lengthAdjust="spacingAndGlyphs">300</text>
<text x="1707.7" y="535.1" font-size="21.5" fill="#2e2e2e" textLength="107.1" lengthAdjust="spacingAndGlyphs">distance to</text>
<text x="1683.3" y="558.6" font-size="21.5" fill="#2e2e2e" textLength="154.4" lengthAdjust="spacingAndGlyphs">TAD border (kb)</text>
<line x1="1485.3" y1="573.3" x2="2037.6" y2="573.3" stroke="#1a1a1a" stroke-width="2.8"/>
<line x1="1506.3" y1="570.0" x2="1506.3" y2="573.3" stroke="#1a1a1a" stroke-width="2.0"/>
<line x1="2028.6" y1="570.0" x2="2028.6" y2="573.3" stroke="#1a1a1a" stroke-width="2.0"/>
<line x1="1761.6" y1="615.6" x2="2016.0" y2="615.6" stroke="#1a1a1a" stroke-width="2.6" stroke-dasharray="8.5 5.5"/>
<line x1="2016.0" y1="600.7" x2="2016.0" y2="631.9" stroke="#1a1a1a" stroke-width="2.5"/>
<rect x="1506.7" y="587.6" width="253.8" height="57.3" fill="#bcbec0" stroke="#1a1a1a" stroke-width="3.0"/>
<line x1="1529.9" y1="587.0" x2="1529.9" y2="645.5" stroke="#1a1a1a" stroke-width="2.6"/>
<line x1="1585.7" y1="689.6" x2="1649.2" y2="689.6" stroke="#1a1a1a" stroke-width="2.6" stroke-dasharray="8.5 5.5"/>
<line x1="1649.2" y1="674.3" x2="1649.2" y2="705.5" stroke="#1a1a1a" stroke-width="2.5"/>
<rect x="1506.7" y="660.9" width="77.9" height="57.7" fill="#ed1c24" stroke="#1a1a1a" stroke-width="3.0"/>
<text x="1431.7" y="623.6" font-size="22" font-weight="bold" fill="#2e2e2e" textLength="36.4" lengthAdjust="spacingAndGlyphs">217</text>
<text x="1438.8" y="697.7" font-size="22" font-weight="bold" fill="#2e2e2e" textLength="24.1" lengthAdjust="spacingAndGlyphs">36</text>
<rect x="1774.5" y="659.9" width="23.4" height="21.8" fill="#bcbec0" stroke="#1a1a1a" stroke-width="2.8" rx="1.2"/>
<rect x="1774.5" y="698.9" width="23.4" height="21.9" fill="#ed1c24" stroke="#1a1a1a" stroke-width="2.8" rx="1.2"/>
<text x="1806.6" y="679.1" font-size="25.5" fill="#2e2e2e" textLength="171.7" lengthAdjust="spacingAndGlyphs">All other genes</text>
<text x="1806.6" y="717.4" font-size="25.5" fill="#2e2e2e" textLength="220.5" lengthAdjust="spacingAndGlyphs">Pluripotency genes</text>
</g>
<g id="panel-f">
<text x="760.6" y="891.8" font-size="46" font-weight="bold" fill="#231f20" textLength="17.2" lengthAdjust="spacingAndGlyphs">f</text>
<rect x="1090.7" y="900.5" width="239.3" height="17.9" fill="#fff200" stroke="#1a1a1a" stroke-width="2.9"/>
<text x="848.8" y="918.2" font-size="19.4" fill="#2a2a2a" textLength="234.5" lengthAdjust="spacingAndGlyphs" stroke="#2a2a2a" stroke-width="0.3">DEVELOPMENTAL BIOLOGY</text>
<rect x="1090.7" y="927.8" width="569.4" height="17.9" fill="#fff200" stroke="#1a1a1a" stroke-width="2.9"/>
<text x="858.4" y="945.5" font-size="19.4" fill="#2a2a2a" textLength="224.9" lengthAdjust="spacingAndGlyphs" stroke="#2a2a2a" stroke-width="0.3">TELOMERE MAINTENANCE</text>
<rect x="1090.7" y="955.1" width="439.0" height="17.9" fill="#fff200" stroke="#1a1a1a" stroke-width="2.9"/>
<text x="802.9" y="972.8" font-size="19.4" fill="#2a2a2a" textLength="280.4" lengthAdjust="spacingAndGlyphs" stroke="#2a2a2a" stroke-width="0.3">PACKAGING OF TELOMERE ENDS</text>
<rect x="1090.7" y="982.4" width="459.5" height="17.9" fill="#fff200" stroke="#1a1a1a" stroke-width="2.9"/>
<text x="817.7" y="1000.1" font-size="19.4" fill="#2a2a2a" textLength="265.6" lengthAdjust="spacingAndGlyphs" stroke="#2a2a2a" stroke-width="0.3">CHROMOSOME MAINTENANCE</text>
<rect x="1090.7" y="1009.7" width="429.0" height="17.9" fill="#c2b59b" stroke="#1a1a1a" stroke-width="2.9"/>
<text x="923.6" y="1027.4" font-size="19.4" fill="#2a2a2a" textLength="159.7" lengthAdjust="spacingAndGlyphs" stroke="#2a2a2a" stroke-width="0.3">MEIOTIC SYNAPSIS</text>
<rect x="1090.7" y="1037.0" width="572.7" height="17.9" fill="#c2b59b" stroke="#1a1a1a" stroke-width="2.9"/>
<text x="858.8" y="1054.7" font-size="19.4" fill="#2a2a2a" textLength="224.5" lengthAdjust="spacingAndGlyphs" stroke="#2a2a2a" stroke-width="0.3">MEIOTIC RECOMBINATION</text>
<rect x="1090.7" y="1064.3" width="595.5" height="17.9" fill="#c2b59b" stroke="#1a1a1a" stroke-width="2.9"/>
<text x="1013.3" y="1082.0" font-size="19.4" fill="#2a2a2a" textLength="70.0" lengthAdjust="spacingAndGlyphs" stroke="#2a2a2a" stroke-width="0.3">MEIOSIS</text>
<rect x="1090.7" y="1091.6" width="582.7" height="17.9" fill="#f7941d" stroke="#1a1a1a" stroke-width="2.9"/>
<text x="845.9" y="1109.3" font-size="19.4" fill="#2a2a2a" textLength="237.4" lengthAdjust="spacingAndGlyphs" stroke="#2a2a2a" stroke-width="0.3">ADAPTIVE IMMUNE SYSTEM</text>
<rect x="1090.7" y="1118.9" width="420.7" height="17.9" fill="#f7941d" stroke="#1a1a1a" stroke-width="2.9"/>
<text x="936.9" y="1136.6" font-size="19.4" fill="#2a2a2a" textLength="146.4" lengthAdjust="spacingAndGlyphs" stroke="#2a2a2a" stroke-width="0.3">IMMUNE SYSTEM</text>
<rect x="1090.7" y="1146.2" width="591.6" height="17.9" fill="#39b54a" stroke="#1a1a1a" stroke-width="2.9"/>
<text x="906.4" y="1163.9" font-size="19.4" fill="#2a2a2a" textLength="176.9" lengthAdjust="spacingAndGlyphs" stroke="#2a2a2a" stroke-width="0.3">CELL CYCLE MITOTIC</text>
<rect x="1090.7" y="1173.5" width="235.4" height="17.9" fill="#39b54a" stroke="#1a1a1a" stroke-width="2.9"/>
<text x="983.0" y="1191.2" font-size="19.4" fill="#2a2a2a" textLength="100.3" lengthAdjust="spacingAndGlyphs" stroke="#2a2a2a" stroke-width="0.3">CELL CYCLE</text>
<rect x="1090.7" y="1200.8" width="253.7" height="17.9" fill="#00aeef" stroke="#1a1a1a" stroke-width="2.9"/>
<text x="854.8" y="1218.5" font-size="19.4" fill="#2a2a2a" textLength="228.5" lengthAdjust="spacingAndGlyphs" stroke="#2a2a2a" stroke-width="0.3">RNA POL I TRANSCRIPTION</text>
<rect x="1090.7" y="1228.1" width="311.4" height="17.9" fill="#00aeef" stroke="#1a1a1a" stroke-width="2.9"/>
<text x="849.8" y="1245.8" font-size="19.4" fill="#2a2a2a" textLength="233.5" lengthAdjust="spacingAndGlyphs" stroke="#2a2a2a" stroke-width="0.3">METABOLISM OF PROTEINS</text>
<rect x="1090.7" y="1255.4" width="593.2" height="17.9" fill="#00aeef" stroke="#1a1a1a" stroke-width="2.9"/>
<text x="817.7" y="1273.1" font-size="19.4" fill="#2a2a2a" textLength="265.6" lengthAdjust="spacingAndGlyphs" stroke="#2a2a2a" stroke-width="0.3">TRANSMEMBRANE TRANSPORT</text>
<rect x="1090.7" y="1282.7" width="595.5" height="17.9" fill="#00aeef" stroke="#1a1a1a" stroke-width="2.9"/>
<text x="898.1" y="1300.4" font-size="19.4" fill="#2a2a2a" textLength="185.2" lengthAdjust="spacingAndGlyphs" stroke="#2a2a2a" stroke-width="0.3">METABOLISM OF RNA</text>
<rect x="1090.7" y="1310.0" width="601.6" height="17.9" fill="#00aeef" stroke="#1a1a1a" stroke-width="2.9"/>
<text x="945.3" y="1327.7" font-size="19.4" fill="#2a2a2a" textLength="138.0" lengthAdjust="spacingAndGlyphs" stroke="#2a2a2a" stroke-width="0.3">TRANSCRIPTION</text>
<rect x="1090.7" y="1337.3" width="264.3" height="17.9" fill="#00aeef" stroke="#1a1a1a" stroke-width="2.9"/>
<text x="832.6" y="1355.0" font-size="19.4" fill="#2a2a2a" textLength="250.7" lengthAdjust="spacingAndGlyphs" stroke="#2a2a2a" stroke-width="0.3">RNA POL I/III TRANSCRIPTION</text>
<rect x="1090.7" y="1364.6" width="618.2" height="17.9" fill="#00aeef" stroke="#1a1a1a" stroke-width="2.9"/>
<text x="811.0" y="1382.3" font-size="19.4" fill="#2a2a2a" textLength="272.3" lengthAdjust="spacingAndGlyphs" stroke="#2a2a2a" stroke-width="0.3">RNA POL I PROMOTER OPENING</text>
<rect x="1090.7" y="1400.0" width="243.8" height="17.9" fill="#fff200" stroke="#1a1a1a" stroke-width="2.9"/>
<text x="848.2" y="1417.7" font-size="19.4" fill="#2a2a2a" textLength="235.1" lengthAdjust="spacingAndGlyphs" stroke="#2a2a2a" stroke-width="0.3">DEVELOPMENTAL BIOLOGY</text>
<rect x="1090.7" y="1427.8" width="257.6" height="17.9" fill="#f7941d" stroke="#1a1a1a" stroke-width="2.9"/>
<text x="845.4" y="1445.6" font-size="19.4" fill="#2a2a2a" textLength="237.9" lengthAdjust="spacingAndGlyphs" stroke="#2a2a2a" stroke-width="0.3">ADAPTIVE IMMUNE SYSTEM</text>
<rect x="1090.7" y="1455.7" width="387.4" height="17.9" fill="#f7941d" stroke="#1a1a1a" stroke-width="2.9"/>
<text x="935.3" y="1473.5" font-size="19.4" fill="#2a2a2a" textLength="148.0" lengthAdjust="spacingAndGlyphs" stroke="#2a2a2a" stroke-width="0.3">IMMUNE SYSTEM</text>
<rect x="1090.7" y="1483.6" width="256.0" height="17.9" fill="#39b54a" stroke="#1a1a1a" stroke-width="2.9"/>
<text x="924.7" y="1501.3" font-size="19.4" fill="#2a2a2a" textLength="158.6" lengthAdjust="spacingAndGlyphs" stroke="#2a2a2a" stroke-width="0.3">DNA REPLICATION</text>
<rect x="1090.7" y="1511.5" width="268.2" height="17.9" fill="#39b54a" stroke="#1a1a1a" stroke-width="2.9"/>
<text x="905.3" y="1529.2" font-size="19.4" fill="#2a2a2a" textLength="178.0" lengthAdjust="spacingAndGlyphs" stroke="#2a2a2a" stroke-width="0.3">CELL CYCLE MITOTIC</text>
<rect x="1090.7" y="1539.4" width="270.4" height="17.9" fill="#39b54a" stroke="#1a1a1a" stroke-width="2.9"/>
<text x="983.0" y="1557.1" font-size="19.4" fill="#2a2a2a" textLength="100.3" lengthAdjust="spacingAndGlyphs" stroke="#2a2a2a" stroke-width="0.3">CELL CYCLE</text>
<rect x="1090.7" y="1567.2" width="288.7" height="17.9" fill="#00aeef" stroke="#1a1a1a" stroke-width="2.9"/>
<text x="816.6" y="1585.0" font-size="19.4" fill="#2a2a2a" textLength="266.7" lengthAdjust="spacingAndGlyphs" stroke="#2a2a2a" stroke-width="0.3">TRANSMEMBRANE TRANSPORT</text>
<rect x="1090.7" y="1595.1" width="297.0" height="17.9" fill="#00aeef" stroke="#1a1a1a" stroke-width="2.9"/>
<text x="798.2" y="1612.9" font-size="19.4" fill="#2a2a2a" textLength="285.1" lengthAdjust="spacingAndGlyphs" stroke="#2a2a2a" stroke-width="0.3">PROCESSING OF CAPPED INTRON</text>
<rect x="1090.7" y="1623.0" width="325.9" height="17.9" fill="#00aeef" stroke="#1a1a1a" stroke-width="2.9"/>
<text x="915.9" y="1640.7" font-size="19.4" fill="#2a2a2a" textLength="167.4" lengthAdjust="spacingAndGlyphs" stroke="#2a2a2a" stroke-width="0.3">MRNA PROCESSING</text>
<rect x="1090.7" y="1650.9" width="325.9" height="17.9" fill="#00aeef" stroke="#1a1a1a" stroke-width="2.9"/>
<text x="847.1" y="1668.6" font-size="19.4" fill="#2a2a2a" textLength="236.2" lengthAdjust="spacingAndGlyphs" stroke="#2a2a2a" stroke-width="0.3">KEGG PURINE METABOLISM</text>
<rect x="1090.7" y="1678.8" width="228.8" height="17.9" fill="#00aeef" stroke="#1a1a1a" stroke-width="2.9"/>
<text x="897.6" y="1696.5" font-size="19.4" fill="#2a2a2a" textLength="185.7" lengthAdjust="spacingAndGlyphs" stroke="#2a2a2a" stroke-width="0.3">METABOLISM OF RNA</text>
<rect x="1090.7" y="1706.6" width="272.0" height="17.9" fill="#00aeef" stroke="#1a1a1a" stroke-width="2.9"/>
<text x="849.8" y="1724.4" font-size="19.4" fill="#2a2a2a" textLength="233.5" lengthAdjust="spacingAndGlyphs" stroke="#2a2a2a" stroke-width="0.3">METABOLISM OF PROTEINS</text>
<rect x="1090.7" y="1734.5" width="297.0" height="17.9" fill="#00aeef" stroke="#1a1a1a" stroke-width="2.9"/>
<text x="836.0" y="1752.3" font-size="19.4" fill="#2a2a2a" textLength="247.3" lengthAdjust="spacingAndGlyphs" stroke="#2a2a2a" stroke-width="0.3">METABOLISM OF LIPIDS AND</text>
<line x1="1089.9" y1="895.0" x2="1089.9" y2="1386.5" stroke="#1a1a1a" stroke-width="3.2"/>
<line x1="1089.9" y1="1393.8" x2="1089.9" y2="1758.0" stroke="#1a1a1a" stroke-width="3.2"/>
<line x1="1088.4" y1="1385.4" x2="1841.2" y2="1385.4" stroke="#1a1a1a" stroke-width="3.4"/>
<line x1="1088.4" y1="1756.6" x2="1841.4" y2="1756.6" stroke="#1a1a1a" stroke-width="3.8"/>
<text x="1681.4" y="931.2" font-size="39.5" fill="#231f20" textLength="151.5" lengthAdjust="spacingAndGlyphs">Dynamic</text>
<text x="1722.8" y="1437.7" font-size="39.5" fill="#231f20" textLength="107.3" lengthAdjust="spacingAndGlyphs">Stable</text>
<text x="1089.5" y="1775.8" font-size="18.5" text-anchor="middle" fill="#2e2e2e">0</text>
<text x="1340.2" y="1775.8" font-size="18.5" text-anchor="middle" fill="#2e2e2e">-10</text>
<text x="1589.9" y="1775.8" font-size="18.5" text-anchor="middle" fill="#2e2e2e">-20</text>
<text x="1840.1" y="1775.8" font-size="18.5" text-anchor="middle" fill="#2e2e2e">-30</text>
<text x="1353.0" y="1801.0" font-size="26.5" fill="#2e2e2e" textLength="234.7" lengthAdjust="spacingAndGlyphs">FDR q-value (log10)</text>
<rect x="1480.0" y="1527.5" width="24.4" height="23.8" fill="#fff200" stroke="#1a1a1a" stroke-width="2.7" rx="1.2"/>
<text x="1515.6" y="1548.0" font-size="27" fill="#2e2e2e" textLength="311.7" lengthAdjust="spacingAndGlyphs">developmental / telomere</text>
<rect x="1480.0" y="1574.7" width="24.4" height="23.2" fill="#c2b59b" stroke="#1a1a1a" stroke-width="2.7" rx="1.2"/>
<text x="1515.6" y="1594.6" font-size="27" fill="#2e2e2e" textLength="89.8" lengthAdjust="spacingAndGlyphs">meiosis</text>
<rect x="1480.0" y="1620.2" width="24.4" height="23.2" fill="#f7941d" stroke="#1a1a1a" stroke-width="2.7" rx="1.2"/>
<text x="1515.6" y="1640.7" font-size="27" fill="#2e2e2e" textLength="190.8" lengthAdjust="spacingAndGlyphs">immune system</text>
<rect x="1480.0" y="1666.2" width="24.4" height="23.2" fill="#39b54a" stroke="#1a1a1a" stroke-width="2.7" rx="1.2"/>
<text x="1515.6" y="1686.7" font-size="27" fill="#2e2e2e" textLength="139.8" lengthAdjust="spacingAndGlyphs">cell division</text>
<rect x="1480.0" y="1713.9" width="24.4" height="23.2" fill="#00aeef" stroke="#1a1a1a" stroke-width="2.7" rx="1.2"/>
<text x="1515.6" y="1733.9" font-size="27" fill="#2e2e2e" textLength="169.1" lengthAdjust="spacingAndGlyphs">housekeeping</text>
</g>
</svg>
</body></html>
